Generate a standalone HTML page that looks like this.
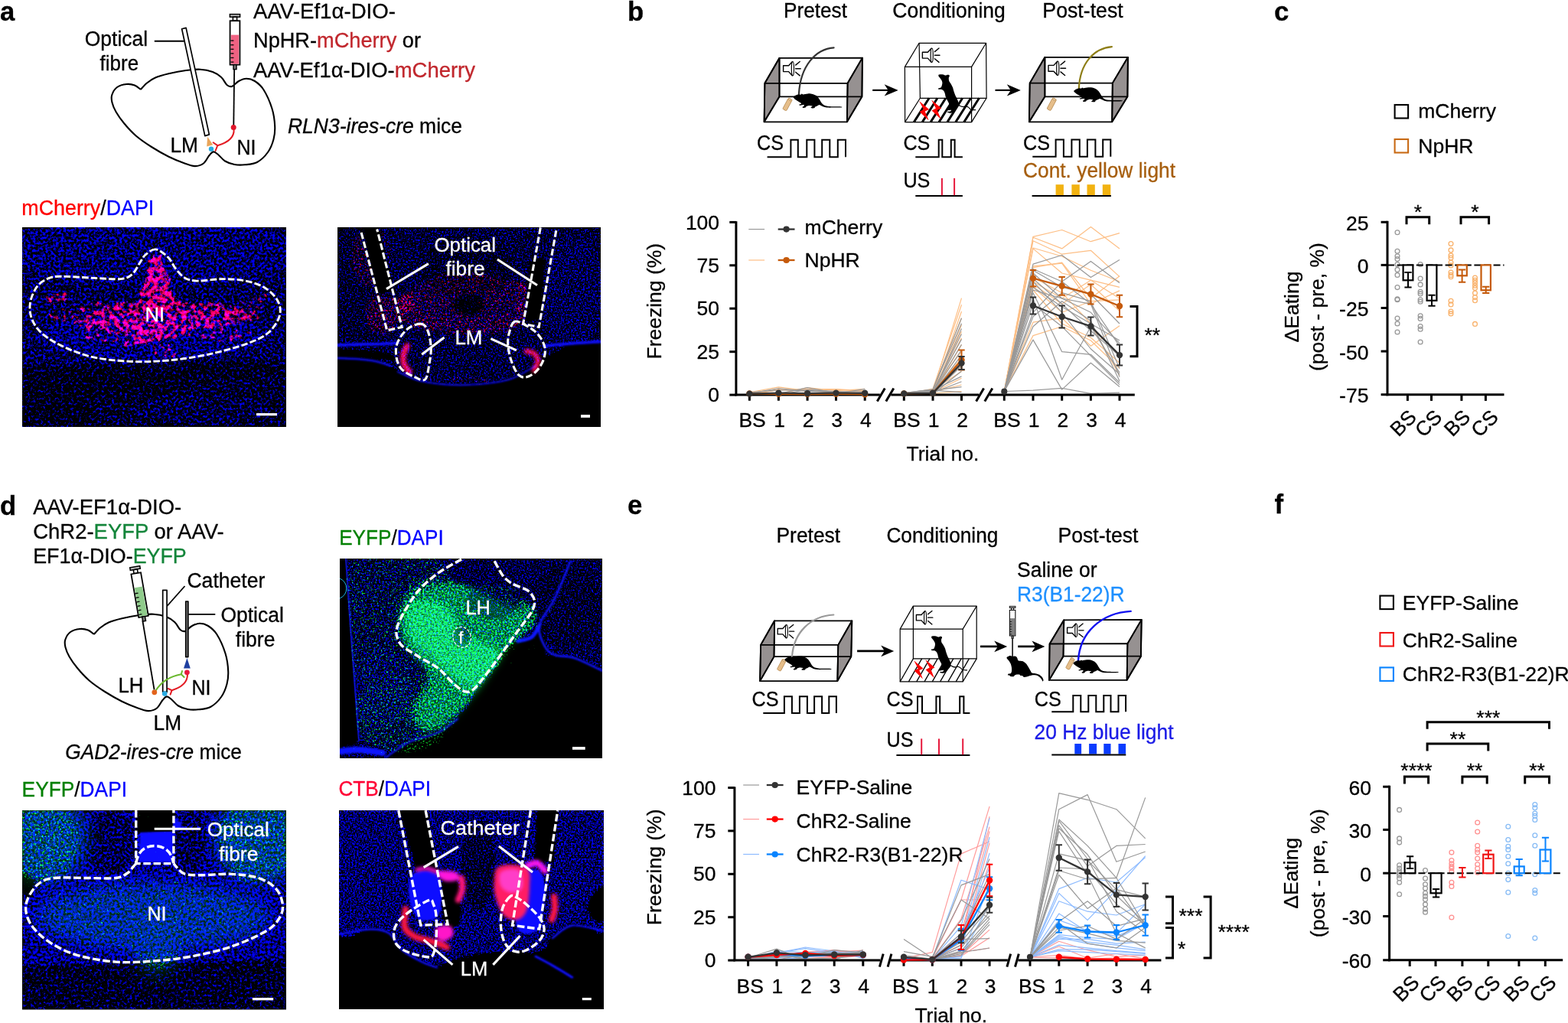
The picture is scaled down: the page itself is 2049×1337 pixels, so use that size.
<!DOCTYPE html>
<html lang="en"><head><meta charset="utf-8"><title>Figure</title>
<style>
html,body{margin:0;padding:0;background:#fff;}
body{width:2049px;height:1337px;overflow:hidden;}
svg{display:block;font-family:'Liberation Sans',sans-serif;font-size:27px;}
text{stroke:#000;stroke-width:.3px;}
</style></head><body>
<svg width="2049" height="1337" viewBox="0 0 2049 1337">
<defs>
<filter id="fB" x="0" y="0" width="100%" height="100%" color-interpolation-filters="sRGB">
<feTurbulence type="fractalNoise" baseFrequency="0.3" numOctaves="3" seed="5" result="n"/>
<feColorMatrix in="n" type="matrix" values="1 0 0 0 0 1 0 0 0 0 1 0 0 0 0 0 0 0 0 1" result="n1"/>
<feGaussianBlur in="SourceGraphic" stdDeviation="1.6" result="d"/>
<feComposite in="n1" in2="d" operator="arithmetic" k1="0" k2="1" k3="1" k4="-0.96" result="s"/>
<feColorMatrix in="s" type="matrix" values="0.0 0 0 0 0 0.0 0 0 0 0 3.6 0 0 0 0 0 0 0 0 1"/>
</filter>
<filter id="fBf" x="0" y="0" width="100%" height="100%" color-interpolation-filters="sRGB">
<feTurbulence type="fractalNoise" baseFrequency="0.45" numOctaves="3" seed="3" result="n"/>
<feColorMatrix in="n" type="matrix" values="1 0 0 0 0 1 0 0 0 0 1 0 0 0 0 0 0 0 0 1" result="n1"/>
<feGaussianBlur in="SourceGraphic" stdDeviation="1.4" result="d"/>
<feComposite in="n1" in2="d" operator="arithmetic" k1="0" k2="1" k3="1" k4="-0.96" result="s"/>
<feColorMatrix in="s" type="matrix" values="0.0 0 0 0 0 0.0 0 0 0 0 3.6 0 0 0 0 0 0 0 0 1"/>
</filter>
<filter id="fR" x="0" y="0" width="100%" height="100%" color-interpolation-filters="sRGB">
<feTurbulence type="fractalNoise" baseFrequency="0.16" numOctaves="3" seed="7" result="n"/>
<feColorMatrix in="n" type="matrix" values="1 0 0 0 0 1 0 0 0 0 1 0 0 0 0 0 0 0 0 1" result="n1"/>
<feGaussianBlur in="SourceGraphic" stdDeviation="2.2" result="d"/>
<feComposite in="n1" in2="d" operator="arithmetic" k1="0" k2="1" k3="1" k4="-1.0" result="s"/>
<feColorMatrix in="s" type="matrix" values="5 0 0 0 0 0 0 0 0 0 1.5 0 0 0 0 0 0 0 0 1"/>
</filter>
<filter id="fRf" x="0" y="0" width="100%" height="100%" color-interpolation-filters="sRGB">
<feTurbulence type="fractalNoise" baseFrequency="0.4" numOctaves="2" seed="9" result="n"/>
<feColorMatrix in="n" type="matrix" values="1 0 0 0 0 1 0 0 0 0 1 0 0 0 0 0 0 0 0 1" result="n1"/>
<feGaussianBlur in="SourceGraphic" stdDeviation="3" result="d"/>
<feComposite in="n1" in2="d" operator="arithmetic" k1="0" k2="1" k3="1" k4="-1.0" result="s"/>
<feColorMatrix in="s" type="matrix" values="4 0 0 0 0 0 0 0 0 0 0.6 0 0 0 0 0 0 0 0 1"/>
</filter>
<filter id="fG" x="0" y="0" width="100%" height="100%" color-interpolation-filters="sRGB">
<feTurbulence type="fractalNoise" baseFrequency="0.4" numOctaves="3" seed="13" result="n"/>
<feColorMatrix in="n" type="matrix" values="1 0 0 0 0 1 0 0 0 0 1 0 0 0 0 0 0 0 0 1" result="n1"/>
<feGaussianBlur in="SourceGraphic" stdDeviation="3" result="d"/>
<feComposite in="n1" in2="d" operator="arithmetic" k1="0" k2="1" k3="1" k4="-1.0" result="s"/>
<feColorMatrix in="s" type="matrix" values="0.2 0 0 0 0 4 0 0 0 0 0.8 0 0 0 0 0 0 0 0 1"/>
</filter>
<filter id="bl1" x="-20%" y="-20%" width="140%" height="140%"><feGaussianBlur stdDeviation="0.9"/></filter>
<filter id="bl2" x="-30%" y="-30%" width="160%" height="160%"><feGaussianBlur stdDeviation="2.2"/></filter>
<filter id="bl8" x="-40%" y="-40%" width="180%" height="180%"><feGaussianBlur stdDeviation="10"/></filter>
<filter id="bl4" x="-30%" y="-30%" width="160%" height="160%"><feGaussianBlur stdDeviation="5"/></filter>
<clipPath id="cA1"><rect x="29" y="297" width="345" height="261"/></clipPath>
<clipPath id="cA2"><rect x="441" y="297" width="344" height="261"/></clipPath>
<clipPath id="cD1"><rect x="444" y="730" width="343" height="261"/></clipPath>
<clipPath id="cD2"><rect x="29" y="1059" width="345" height="260.5"/></clipPath>
<clipPath id="cD3"><rect x="443" y="1059" width="346" height="260"/></clipPath>
</defs>
<rect width="2049" height="1337" fill="#fff"/>
<g clip-path="url(#cA1)">
<rect x="29" y="297" width="345" height="261" fill="#000"/>
<g filter="url(#fB)"><rect x="29" y="297" width="345" height="261" fill="#858585"/><ellipse cx="200" cy="330" rx="200" ry="45" fill="#8f8f8f"/><ellipse cx="200" cy="440" rx="150" ry="30" fill="#949494"/><polygon points="29,478 374,470 374,558 29,558" fill="#787878"/><ellipse cx="120" cy="500" rx="130" ry="22" fill="#6e6e6e"/><ellipse cx="60" cy="540" rx="70" ry="22" fill="#707070"/><ellipse cx="300" cy="485" rx="70" ry="10" fill="#707070"/><ellipse cx="260" cy="535" rx="90" ry="18" fill="#808080"/></g>
<g filter="url(#fR)" style="mix-blend-mode:screen"><rect x="29" y="297" width="345" height="261" fill="#242424"/><ellipse cx="205" cy="412" rx="145" ry="20" fill="#757575"/><ellipse cx="185" cy="420" rx="85" ry="26" fill="#8f8f8f"/><ellipse cx="175" cy="432" rx="45" ry="20" fill="#9e9e9e"/><ellipse cx="270" cy="412" rx="60" ry="16" fill="#949494"/><polygon points="196,332 212,332 235,405 178,405" fill="#999999"/><ellipse cx="205" cy="380" rx="16" ry="34" fill="#a3a3a3"/><ellipse cx="75" cy="390" rx="22" ry="8" fill="#808080"/><ellipse cx="335" cy="392" rx="25" ry="10" fill="#6b6b6b"/><ellipse cx="290" cy="438" rx="45" ry="10" fill="#707070"/><ellipse cx="215" cy="460" rx="20" ry="10" fill="#757575"/><ellipse cx="140" cy="440" rx="35" ry="10" fill="#737373"/></g>
<path d="M203.6,325.9C198.7,325.3 193.5,330 190,333C186.5,336 185.5,339.4 182.6,343.7C179.7,347.9 176.9,355 172.8,358.5C168.7,362 166.1,363.8 157.9,364.6C149.7,365.4 135.3,363.9 123.4,363.4C111.5,362.9 95.9,361.5 86.4,361.4C76.9,361.3 72.8,360.7 66.6,362.7C60.4,364.7 53.9,367.8 49.4,373.3C44.9,378.8 40.7,388.1 39.5,395.5C38.3,402.9 39.1,410.7 42,417.7C44.9,424.7 49.4,431.2 56.8,437.4C64.2,443.6 75.3,449.8 86.4,454.7C97.5,459.6 109,464.1 123.4,467.1C137.8,470.1 156.4,471.9 172.8,472.5C189.2,473.1 205.7,472.3 222.1,470.8C238.5,469.3 255.1,466.8 271.5,463.3C287.9,459.8 307.7,454.5 320.8,449.8C333.9,445.1 343,441.2 350.4,435C357.8,428.8 363.2,419.8 365.3,412.8C367.4,405.8 366.1,399.2 362.8,393C359.5,386.8 352.5,380 345.5,375.7C338.5,371.4 329.9,369 320.8,367.1C311.8,365.2 301.5,364.6 291.2,364.6C280.9,364.6 267.3,367.3 259.1,367.1C250.9,366.9 246.8,366.1 241.9,363.4C237,360.7 233.2,355.6 229.5,351.1C225.8,346.6 223.9,340.5 219.6,336.3C215.3,332.1 208.5,326.4 203.6,325.9Z" fill="none" stroke="#fff" stroke-width="2.9" stroke-dasharray="8.6 3.1"/>
<text x="189.6" y="419.8" font-size="26" fill="#fff" style="stroke:#fff" textLength="25.6" lengthAdjust="spacingAndGlyphs">NI</text>
<rect x="335" y="540" width="27" height="3.2" fill="#fff"/>
</g>
<g clip-path="url(#cA2)">
<rect x="441" y="297" width="344" height="261" fill="#000"/>
<g filter="url(#fBf)"><rect x="441" y="297" width="344" height="261" fill="#000000"/><polygon points="441,297 785,297 785,447 745.4,451.4 712.8,468.7 690,484 669.5,494.8 636.9,501.3 593.5,503.4 550,499 515.4,483.9 490,470 441,468" fill="#7d7d7d"/><ellipse cx="612" cy="398" rx="20" ry="14" fill="#5c5c5c"/><ellipse cx="610" cy="350" rx="60" ry="40" fill="#737373"/><polygon points="441,297 475,297 500,400 500,455 441,455" fill="#787878"/><ellipse cx="750" cy="380" rx="40" ry="70" fill="#858585"/><polygon points="475.5,297 493,297 513,378 495,383" fill="#000000"/><polygon points="693,343 710,338 706,415 689,420" fill="#000000"/><path d="M441,458C445.8,456.8 460.2,458.3 470,459C479.8,459.7 491.7,460.2 500,462C508.3,463.8 520,469 520,470C520,471 508.3,468.5 500,468C491.7,467.5 479.8,467.3 470,467C460.2,466.7 445.8,467.5 441,466C436.2,464.5 436.2,459.2 441,458Z" fill="#000000"/></g>
<g fill="none" stroke="#0a0aff" stroke-width="2.4" stroke-linecap="round" filter="url(#bl1)" opacity="0.95">
<path d="M441,451C445.8,450.8 460.2,450.2 470,450C479.8,449.8 491.7,449.8 500,449.5C508.3,449.2 516.7,448.2 520,448" stroke-width="4"/>
<path d="M441,468C445,468.2 456.8,468.3 465,469C473.2,469.7 482.5,470.5 490,472C497.5,473.5 506.7,477 510,478" stroke-width="2.6"/>
<path d="M712,452C717.5,451.5 732.8,449.9 745,449C757.2,448.1 778.3,446.9 785,446.5" stroke-width="4"/>
<path d="M520,486C525,488 537.8,495.2 550,498C562.2,500.8 579,502.5 593.5,503C608,503.5 624.2,502.4 636.9,501C649.6,499.6 659,498.3 669.5,494.5C680,490.7 694.9,480.8 700,478" stroke-width="2"/>
</g>
<g filter="url(#fRf)" style="mix-blend-mode:screen"><rect x="441" y="297" width="344" height="261" fill="#1f1f1f"/><ellipse cx="553" cy="402" rx="38" ry="28" fill="#949494"/><ellipse cx="668" cy="396" rx="36" ry="32" fill="#949494"/><ellipse cx="610" cy="418" rx="85" ry="22" fill="#757575"/><ellipse cx="610" cy="385" rx="75" ry="32" fill="#6b6b6b"/><ellipse cx="485" cy="335" rx="28" ry="45" fill="#6b6b6b"/><ellipse cx="500" cy="410" rx="25" ry="30" fill="#757575"/><ellipse cx="610" cy="498" rx="60" ry="6" fill="#6b6b6b"/><ellipse cx="612" cy="398" rx="16" ry="12" fill="#333333"/><polygon points="474,297 494,297 514,380 496,385" fill="#000000"/><polygon points="692,343 711,338 707,415 688,420" fill="#000000"/><polygon points="441,470 520,486 550,500 640,503 700,480 785,450 785,558 441,558" fill="#000000"/></g>
<g filter="url(#bl2)" style="mix-blend-mode:screen"><path d="M532,452C531.2,454 527.7,460 527,464C526.3,468 526.7,472.3 528,476C529.3,479.7 533.8,484.3 535,486" fill="none" stroke="#ff0a50" stroke-width="7" stroke-linecap="round"/><path d="M688,459C689.7,459.5 695.5,459.8 698,462C700.5,464.2 703,468.3 703,472C703,475.7 698.8,482 698,484" fill="none" stroke="#ff0a50" stroke-width="6" stroke-linecap="round"/></g>
<path d="M472.1,303.9 L505.7,431.8 L525.2,427.5 L492.7,299.5" fill="none" stroke="#fff" stroke-width="3.1" stroke-dasharray="8.8 3.4"/>
<path d="M706.3,297.4 L683.6,423.2 L704.2,427.5 L726.9,300.6" fill="none" stroke="#fff" stroke-width="3.1" stroke-dasharray="8.8 3.4"/>
<path d="M550.2,423.2C545.9,422.8 537.9,425.7 532.8,429.7C527.7,433.7 522.3,441.2 519.8,447C517.3,452.8 516.9,458.6 517.6,464.4C518.3,470.2 520.1,477 524.1,481.7C528.1,486.4 536.2,490.2 541.5,492.6C546.8,495 552.4,498.7 555.6,495.8C558.9,492.9 559.7,482.2 561,475.2C562.3,468.1 563.6,460.7 563.2,453.5C562.8,446.3 561,436.9 558.8,431.8C556.6,426.8 554.5,423.6 550.2,423.2Z" fill="none" stroke="#fff" stroke-width="3.1" stroke-dasharray="8.8 3.4"/>
<path d="M672.7,420.3C668.4,421.8 666.6,430.7 665.1,436.2C663.6,441.7 663.3,447 664,453.5C664.7,460 667.1,469.1 669.5,475.2C671.9,481.3 674.9,487.5 678.1,490.4C681.4,493.3 685,493.7 689,492.6C693,491.5 698.4,487.9 702,483.9C705.6,479.9 709.1,473.8 710.7,468.7C712.3,463.6 712.9,458.6 711.8,453.5C710.7,448.4 707.7,442.7 704.2,438.4C700.8,434.1 696.4,430.5 691.1,427.5C685.9,424.5 677,418.9 672.7,420.3Z" fill="none" stroke="#fff" stroke-width="3.1" stroke-dasharray="8.8 3.4"/>
<text x="567.5" y="328.8" font-size="26" fill="#fff" style="stroke:#fff" textLength="80.5" lengthAdjust="spacingAndGlyphs">Optical</text>
<text x="582.5" y="360.3" font-size="26" fill="#fff" style="stroke:#fff" textLength="51" lengthAdjust="spacingAndGlyphs">fibre</text>
<line x1="559.9" y1="344.6" x2="505" y2="377.6" stroke="#fff" stroke-width="3.1"/>
<line x1="649.9" y1="339" x2="702" y2="372.8" stroke="#fff" stroke-width="3.1"/>
<text x="594.4" y="449.6" font-size="26" fill="#fff" style="stroke:#fff" textLength="36" lengthAdjust="spacingAndGlyphs">LM</text>
<line x1="580.5" y1="441" x2="551.2" y2="463.3" stroke="#fff" stroke-width="3.1"/>
<line x1="641.3" y1="442.7" x2="674.9" y2="457.9" stroke="#fff" stroke-width="3.1"/>
<rect x="759" y="542" width="12" height="3.8" fill="#fff"/>
</g>
<g clip-path="url(#cD1)">
<rect x="444" y="730" width="343" height="261" fill="#000"/>
<g filter="url(#fBf)"><rect x="444" y="730" width="343" height="261" fill="#000000"/><polygon points="451,730 787,730 787,877 750.6,860.7 725.1,858.2 710,858 712.4,848 704.8,817.5 694.6,832.7 676.8,837.8 664.1,848 648.9,873.4 628.5,898.9 613.3,924.3 598,939.5 572.6,957.3 534.4,970 503.9,991 444,991 444,975 468.3,970 463,900 457,820" fill="#808080"/><ellipse cx="740" cy="790" rx="45" ry="55" fill="#787878"/><ellipse cx="500" cy="900" rx="40" ry="50" fill="#878787"/></g>
<g fill="none" stroke="#0a14ff" stroke-width="3" stroke-linecap="round" filter="url(#bl1)">
<path d="M451,731C452,745.8 455,791.8 457,820C459,848.2 461.2,875.3 463,900C464.8,924.7 467.2,956.7 468,968" stroke-width="3.4"/>
<path d="M444,982C448.3,981.7 460.7,979.7 470,980C479.3,980.3 495,983.3 500,984" stroke-width="8"/>
<path d="M745.5,733.6C742.1,741.6 731.9,767.9 725.1,781.9C718.3,795.9 707,807 704.8,817.5C702.6,828 708.6,838.6 712,845C715.4,851.4 718.6,853.5 725,856C731.4,858.5 740.3,856.6 750.6,860C760.9,863.4 780.9,873.8 787,876.5" stroke-width="2.6"/>
<path d="M704.8,817.5C703.1,820 699.3,829.3 694.6,832.7C689.9,836.1 679.8,836.9 676.8,837.8" stroke-width="5"/>
<path d="M503.9,990C509,986.7 522.9,975.5 534.4,970C545.9,964.5 562,962.4 572.6,957.3C583.2,952.2 593.8,942.5 598,939.5" stroke-width="2.2"/>
</g>
<path d="M545,775C557.7,768.3 580.8,762.5 600,765C619.2,767.5 645,784.2 660,790C675,795.8 685.8,794.2 690,800C694.2,805.8 690,816.7 685,825C680,833.3 667.5,840.8 660,850C652.5,859.2 647.5,869.2 640,880C632.5,890.8 624.2,904.2 615,915C605.8,925.8 595,938.3 585,945C575,951.7 561.7,958.3 555,955C548.3,951.7 543.3,935.8 545,925C546.7,914.2 565,900.5 565,890C565,879.5 551.2,870.3 545,862C538.8,853.7 531.5,849.5 528,840C524.5,830.5 521.2,815.8 524,805C526.8,794.2 532.3,781.7 545,775Z" fill="#00c828" opacity="0.38" filter="url(#bl4)" style="mix-blend-mode:screen"/>
<path d="M535,800C541.7,792.5 562.5,784.2 575,790C587.5,795.8 596.7,825 610,835C623.3,845 650,842.5 655,850C660,857.5 646.7,870.8 640,880C633.3,889.2 624.2,905 615,905C605.8,905 595,887.5 585,880C575,872.5 563.3,867.5 555,860C546.7,852.5 538.3,845 535,835C531.7,825 528.3,807.5 535,800Z" fill="#14e650" opacity="0.35" filter="url(#bl4)" style="mix-blend-mode:screen"/>
<g filter="url(#fG)" style="mix-blend-mode:screen"><rect x="444" y="730" width="343" height="261" fill="#383838"/><ellipse cx="520" cy="810" rx="90" ry="100" fill="#666666"/><ellipse cx="525" cy="935" rx="70" ry="50" fill="#707070"/><path d="M550,760C566.7,754.2 596.7,760.8 620,765C643.3,769.2 676.3,776.7 690,785C703.7,793.3 705,805.5 702,815C699,824.5 680.7,832.5 672,842C663.3,851.5 657.3,862.8 650,872C642.7,881.2 634.3,888.7 628,897C621.7,905.3 618.3,914.5 612,922C605.7,929.5 599.5,936.5 590,942C580.5,947.5 564.2,957 555,955C545.8,953 535,940.8 535,930C535,919.2 552.5,901.3 555,890C557.5,878.7 554.5,870 550,862C545.5,854 533,852.3 528,842C523,831.7 516.3,813.7 520,800C523.7,786.3 533.3,765.8 550,760Z" fill="#949494"/><path d="M535,790C542.5,783.3 567.5,783.3 580,790C592.5,796.7 598.3,820 610,830C621.7,840 644.2,843 650,850C655.8,857 649.2,864.5 645,872C640.8,879.5 634.2,893.7 625,895C615.8,896.3 600.8,887.5 590,880C579.2,872.5 569.2,858.3 560,850C550.8,841.7 539.2,840 535,830C530.8,820 527.5,796.7 535,790Z" fill="#adadad"/><ellipse cx="645" cy="785" rx="34" ry="24" fill="#6b6b6b"/><ellipse cx="603" cy="832" rx="10" ry="12" fill="#404040"/><polygon points="640,887 712,848 787,880 787,991 565,991 600,945" fill="#000000"/></g>
<path d="M444,730 L451,730 L457,820 L463,900 L468,968 L444,974Z" fill="#000"/>
<path d="M603.1,731C598.5,733.7 581,742.7 572.6,748.8C564.2,754.9 554,763.7 547.1,771.7C540.2,779.7 531.2,794.2 526.8,802.2C522.4,810.2 518.3,819 517.9,825.1C517.5,831.2 519.9,837.9 524.3,842.9C528.7,847.9 539.9,853.6 547.1,858.2C554.3,862.8 565.7,868.1 572.6,873.4C579.5,878.7 587.6,889.2 592.9,893.8C598.2,898.4 604,903.1 608.2,903.9C612.4,904.7 614.8,905 620.9,898.9C627,892.8 640.9,874 648.9,863.3C656.9,852.6 667.4,837.2 674.3,827.7C681.2,818.2 691,806.2 694.6,799.7C698.2,793.2 699.2,788.6 698.4,784.4C697.6,780.2 693.9,774.9 689.5,771.7C685.1,768.5 674.2,765.8 669.2,762.8C664.2,759.8 660.1,756.2 656.5,751.4C652.9,746.6 646.7,734.1 645,731" fill="none" stroke="#fff" stroke-width="3.4" stroke-dasharray="9.6 3.6"/>
<ellipse cx="603.6" cy="832.7" rx="11.6" ry="13.6" fill="none" stroke="#fff" stroke-width="1.2" stroke-dasharray="3.5 2" transform="rotate(-20 603.6 832.7)"/>
<text x="599.3" y="840.9" font-size="22" fill="#fff" style="stroke:#fff">f</text>
<text x="608.4" y="802.7" font-size="25.5" fill="#fff" style="stroke:#fff" textLength="32.5" lengthAdjust="spacingAndGlyphs">LH</text>
<path d="M444,756 A14,14 0 0 1 444,782" fill="none" stroke="#1ab4e6" stroke-width="1"/>
<rect x="748" y="976.1" width="16.7" height="3.7" fill="#fff"/>
</g>
<g clip-path="url(#cD2)">
<rect x="29" y="1059" width="345" height="260.5" fill="#000"/>
<g filter="url(#fB)"><rect x="29" y="1059" width="345" height="260.5" fill="#999999"/><ellipse cx="200" cy="1195" rx="175" ry="55" fill="#a1a1a1"/><ellipse cx="145" cy="1100" rx="32" ry="42" fill="#878787"/><ellipse cx="248" cy="1100" rx="20" ry="42" fill="#878787"/><polygon points="29,1262 374,1255 374,1320 29,1320" fill="#757575"/><polygon points="29,1140 45,1150 40,1172 29,1165" fill="#333333"/><polygon points="180.5,1059 225.5,1059 225.5,1088 180.5,1088" fill="#000000"/></g>
<path d="M183,1088 L226,1086 L227,1127 L181,1127 Z" fill="#0a0aff" filter="url(#bl1)"/>
<path d="M226,1072 L238,1074 L236,1084 L226,1086Z" fill="#0a0aff" filter="url(#bl1)"/>
<rect x="180.5" y="1059" width="45" height="27.5" fill="#000"/>
<g filter="url(#fG)" style="mix-blend-mode:screen"><rect x="29" y="1059" width="345" height="260.5" fill="#333333"/><ellipse cx="55" cy="1100" rx="50" ry="55" fill="#757575"/><ellipse cx="335" cy="1100" rx="55" ry="55" fill="#707070"/><ellipse cx="205" cy="1228" rx="34" ry="40" fill="#707070"/><ellipse cx="200" cy="1195" rx="160" ry="50" fill="#575757"/></g>
<g filter="url(#bl8)" style="mix-blend-mode:screen" fill="#00a040" opacity="0.3"><ellipse cx="55" cy="1095" rx="60" ry="60"/><ellipse cx="340" cy="1095" rx="60" ry="60"/><ellipse cx="200" cy="1198" rx="150" ry="42" opacity="0.85"/><ellipse cx="205" cy="1235" rx="30" ry="40" opacity="0.8"/></g>
<path d="M177.7,1059 V1128.6 H226.9 V1059" fill="none" stroke="#fff" stroke-width="3.4" stroke-dasharray="9.6 3.6"/>
<path d="M178,1128 C180,1112 190,1105.5 201.7,1105.5 C214,1105.5 224,1112 226.6,1128" fill="none" stroke="#fff" stroke-width="3.4" stroke-dasharray="9.6 3.6"/>
<path d="M177.7,1128.6C177.1,1129.3 175.8,1130.9 173.9,1133C172,1135.1 170.2,1138.8 166.4,1141.2C162.6,1143.6 160,1146.5 151.2,1147.5C142.4,1148.5 126.8,1147.5 113.4,1147.5C100,1147.5 81.1,1146.2 70.6,1147.5C60.1,1148.8 56.1,1150.6 50.4,1155C44.7,1159.4 39.3,1167.8 36.6,1173.9C33.9,1180 33,1185.3 34,1191.6C35,1197.9 37.6,1205 42.9,1211.7C48.1,1218.4 55.9,1225.8 65.5,1231.9C75.2,1238 86.5,1244.1 100.8,1248.3C115.1,1252.5 134.4,1255.8 151.2,1257.1C168,1258.4 184.9,1257.2 201.7,1255.9C218.5,1254.7 235.3,1252.8 252.1,1249.6C268.9,1246.4 286.5,1242.5 302.5,1237C318.5,1231.5 337.4,1223.1 347.9,1216.8C358.4,1210.5 361.9,1205 365.5,1199.1C369.1,1193.2 370.1,1187.8 369.3,1181.5C368.5,1175.2 365.8,1167 360.5,1161.3C355.2,1155.6 347.5,1150.7 337.8,1147.5C328.1,1144.3 314.7,1143 302.5,1142.4C290.3,1141.8 274.8,1143.7 264.7,1143.7C254.6,1143.7 247.5,1143.9 242,1142.4C236.5,1140.9 234.4,1136.9 231.9,1134.6C229.4,1132.3 227.7,1129.6 226.9,1128.6" fill="none" stroke="#fff" stroke-width="3.4" stroke-dasharray="9.6 3.6"/>
<line x1="201.7" y1="1083.2" x2="262.2" y2="1083.2" stroke="#fff" stroke-width="3.1"/>
<text x="270.8" y="1093.3" font-size="26" fill="#fff" style="stroke:#fff" textLength="81" lengthAdjust="spacingAndGlyphs">Optical</text>
<text x="286" y="1125.3" font-size="26" fill="#fff" style="stroke:#fff" textLength="51.3" lengthAdjust="spacingAndGlyphs">fibre</text>
<text x="192.4" y="1202.9" font-size="26" fill="#fff" style="stroke:#fff" textLength="25" lengthAdjust="spacingAndGlyphs">NI</text>
<rect x="329.9" y="1304" width="27.3" height="3.3" fill="#fff"/>
</g>
<g clip-path="url(#cD3)">
<rect x="443" y="1059" width="346" height="260" fill="#000"/>
<g filter="url(#fBf)"><rect x="443" y="1059" width="346" height="260" fill="#000000"/><path d="M443,1059C477.6,1042.7 754.4,1043.2 789,1059C823.6,1074.8 790.9,1201.6 789,1217C787.1,1232.4 774.1,1213.8 770,1213C765.9,1212.2 752.5,1208.1 747.7,1209.2C743,1210.3 725.8,1220.9 722.5,1224C719.2,1227.1 717.5,1237.7 715,1240C712.5,1242.3 701.6,1246.5 697.3,1247C693,1247.5 678.3,1244.5 672,1244.5C665.7,1244.5 641.8,1246 634.2,1247C626.6,1248 602.7,1252.8 596.4,1254.6C590.1,1256.4 575.7,1264.5 571.2,1264.7C566.7,1265 555.6,1259.4 551.1,1257.1C546.6,1254.8 530.2,1245.8 525.9,1242C521.6,1238.2 512.5,1222.1 508.2,1219.3C503.9,1216.5 489.5,1214 483,1214.2C476.5,1214.5 447,1237.3 443,1221.8C439,1206.3 408.4,1075.3 443,1059Z" fill="#8f8f8f"/><polygon points="443,1059 789,1059 789,1200 443,1200" fill="#8f8f8f"/><ellipse cx="625" cy="1130" rx="22" ry="60" fill="#787878"/><polygon points="524,1059 556,1059 571,1138 546,1140" fill="#000000"/><polygon points="703,1059 728.5,1059 722,1126 700,1124" fill="#000000"/><path d="M580,1150C582.8,1145.3 592.7,1147 596,1152C599.3,1157 599.7,1171 600,1180C600.3,1189 600.7,1201.2 598,1206C595.3,1210.8 587.2,1213.3 584,1209C580.8,1204.7 579.7,1189.8 579,1180C578.3,1170.2 577.2,1154.7 580,1150Z" fill="#000000"/><path d="M770,1180C772.3,1173.3 785.8,1156.7 789,1160C792.2,1163.3 791.3,1193.3 789,1200C786.7,1206.7 778.2,1203.3 775,1200C771.8,1196.7 767.7,1186.7 770,1180Z" fill="#1a1a1a"/></g>
<g fill="#0a0aff" filter="url(#bl1)">
<path d="M540,1142C544.3,1138.3 554.3,1137 560,1138C565.7,1139 571.2,1142.3 574,1148C576.8,1153.7 577.3,1163.7 577,1172C576.7,1180.3 576.5,1193 572,1198C567.5,1203 555.7,1204 550,1202C544.3,1200 540.7,1193 538,1186C535.3,1179 533.7,1167.3 534,1160C534.3,1152.7 535.7,1145.7 540,1142Z"/>
<path d="M682,1142C686.3,1136.7 699,1135 704,1138C709,1141 711.2,1151.3 712,1160C712.8,1168.7 710.3,1181 709,1190C707.7,1199 708.2,1209 704,1214C699.8,1219 689,1221.5 684,1220C679,1218.5 675,1213.3 674,1205C673,1196.7 676.7,1180.5 678,1170C679.3,1159.5 677.7,1147.3 682,1142Z"/>
</g>
<g fill="none" stroke="#0a0aff" stroke-width="2.4" stroke-linecap="round" filter="url(#bl1)">
<path d="M443,1221C449.7,1219.9 472.2,1214.8 483,1214.5C493.8,1214.2 500.8,1214.9 508,1219.5C515.2,1224.1 518.8,1235.8 526,1242C533.2,1248.2 543.5,1253.2 551,1257C558.5,1260.8 567.7,1263.2 571,1264.5"/>
<path d="M700,1250C703.8,1252 714.5,1257.5 722.5,1262.1C730.5,1266.6 743.5,1274.8 747.7,1277.3" stroke-width="3"/>
<path d="M722,1226C726.3,1223.2 736.5,1211 747.7,1209.5C758.9,1208 782.1,1215.6 789,1216.8"/>
</g>
<g filter="url(#bl2)" stroke-linecap="round" stroke-linejoin="round" fill="none">
<path d="M545,1137C547,1136.7 552.8,1134.7 557,1135C561.2,1135.3 567.8,1138.3 570,1139" stroke="#ff14dc" stroke-width="5"/>
<path d="M571,1139C573.7,1137.2 591.5,1138.2 596,1140C600.5,1141.8 600.7,1148.2 598,1150C595.3,1151.8 584.5,1152.8 580,1151C575.5,1149.2 568.3,1140.8 571,1139Z" fill="#ff14dc"/>
<path d="M603,1148C603.2,1150.3 604.7,1157.3 604,1162C603.3,1166.7 599.8,1173.7 599,1176" stroke="#ff1478" stroke-width="8"/>
<path d="M530,1188C529.8,1192 527,1206 529,1212C531,1218 536.8,1221.2 542,1224C547.2,1226.8 554.5,1227.3 560,1229C565.5,1230.7 571,1232.5 575,1234C579,1235.5 582.5,1237.3 584,1238" stroke="#ff143c" stroke-width="8"/>
<path d="M571,1212C574,1209.7 584.5,1208.3 588,1210C591.5,1211.7 593.3,1218.7 592,1222C590.7,1225.3 583.7,1229.7 580,1230C576.3,1230.3 571.5,1227 570,1224C568.5,1221 568,1214.3 571,1212Z" fill="#ff14c8"/>
<path d="M650,1134C653.7,1131 661.3,1129.7 668,1130C674.7,1130.3 686,1131 690,1136C694,1141 692.3,1151 692,1160C691.7,1169 690.7,1183 688,1190C685.3,1197 681,1201 676,1202C671,1203 662.8,1201.3 658,1196C653.2,1190.7 649,1178 647,1170C645,1162 645.5,1154 646,1148C646.5,1142 646.3,1137 650,1134Z" fill="#ff1e64"/>
<path d="M655,1140C658.8,1136.7 673.5,1134.7 678,1138C682.5,1141.3 683.7,1155.3 682,1160C680.3,1164.7 672.5,1166.3 668,1166C663.5,1165.7 657.2,1162.3 655,1158C652.8,1153.7 651.2,1143.3 655,1140Z" fill="#ff3cc8"/>
<path d="M690,1131C692,1130.5 698.3,1126.8 702,1128C705.7,1129.2 710.3,1136.3 712,1138" stroke="#ff14f0" stroke-width="8"/>
<path d="M724,1172C724.2,1174.7 725.5,1183 725,1188C724.5,1193 721.7,1199.7 721,1202" stroke="#ff1446" stroke-width="8"/>
</g>
<path d="M520.8,1059.2 L549.8,1209.2 L585.1,1207.9 L556.1,1059.2" fill="none" stroke="#fff" stroke-width="3.4" stroke-dasharray="9.6 3.6"/>
<path d="M693.5,1059.2 L669.5,1209.2 L704.8,1214.2 L728.8,1059.2" fill="none" stroke="#fff" stroke-width="3.4" stroke-dasharray="9.6 3.6"/>
<path d="M561.1,1176.4C556.5,1177.7 545.2,1184.4 538.5,1189C531.8,1193.6 524.8,1199.2 520.8,1204.2C516.8,1209.2 514.9,1214.3 514.5,1219.3C514.1,1224.3 515.1,1230.2 518.3,1234.4C521.4,1238.6 526.7,1241.8 533.4,1244.5C540.1,1247.2 553.1,1250.4 558.6,1250.8C564.1,1251.2 564.3,1251 566.2,1247C568.1,1243 569.4,1235.2 570,1226.8C570.6,1218.4 570.6,1204.1 570,1196.6C569.4,1189 567.7,1184.9 566.2,1181.5C564.7,1178.1 565.7,1175.2 561.1,1176.4Z" fill="none" stroke="#fff" stroke-width="3.4" stroke-dasharray="9.6 3.6"/>
<path d="M667,1171.4C664,1173.7 659,1180.2 656.9,1186.5C654.8,1192.8 654,1201.6 654.4,1209.2C654.8,1216.8 656.5,1226.2 659.4,1231.9C662.3,1237.6 667.4,1241.5 672,1243.2C676.6,1244.9 681.7,1244.3 687.2,1242C692.7,1239.7 700.8,1234 704.8,1229.4C708.8,1224.8 711.1,1219.2 711.1,1214.2C711.1,1209.2 708.8,1204.5 704.8,1199.1C700.8,1193.6 692.2,1185.9 687.2,1181.5C682.2,1177.1 678,1174.4 674.6,1172.7C671.2,1171 670,1169.1 667,1171.4Z" fill="none" stroke="#fff" stroke-width="3.4" stroke-dasharray="9.6 3.6"/>
<text x="575.5" y="1091.2" font-size="26" fill="#fff" style="stroke:#fff" textLength="103.5" lengthAdjust="spacingAndGlyphs">Catheter</text>
<line x1="599" y1="1106.4" x2="553.6" y2="1133.6" stroke="#fff" stroke-width="3.1"/>
<line x1="651.9" y1="1105.9" x2="696" y2="1139.9" stroke="#fff" stroke-width="3.1"/>
<text x="601.8" y="1275.2" font-size="26" fill="#fff" style="stroke:#fff" textLength="35.5" lengthAdjust="spacingAndGlyphs">LM</text>
<line x1="591.4" y1="1260.9" x2="553.6" y2="1228.1" stroke="#fff" stroke-width="3.1"/>
<line x1="644.3" y1="1260.9" x2="679.6" y2="1223.1" stroke="#fff" stroke-width="3.1"/>
<rect x="760.8" y="1304" width="12" height="3.2" fill="#fff"/>
</g>
<g id="panel-a">
<text x="0" y="26.6" font-size="34.7" font-weight="bold" stroke-width="0">a</text>
<text x="110.7" y="59.8" textLength="82.5" lengthAdjust="spacingAndGlyphs">Optical</text>
<text x="130.6" y="92.2" textLength="50.6" lengthAdjust="spacingAndGlyphs">fibre</text>
<text x="331" y="24.3" textLength="186" lengthAdjust="spacingAndGlyphs">AAV-Ef1α-DIO-</text>
<text x="331" y="62" textLength="219" lengthAdjust="spacingAndGlyphs">NpHR-<tspan fill="#C1272D" style="stroke:#C1272D">mCherry</tspan> or</text>
<text x="331" y="100.6" textLength="290" lengthAdjust="spacingAndGlyphs">AAV-Ef1α-DIO-<tspan fill="#C1272D" style="stroke:#C1272D">mCherry</tspan></text>
<text x="376" y="174" textLength="228" lengthAdjust="spacingAndGlyphs"><tspan font-style="italic">RLN3-ires-cre</tspan> mice</text>
<text x="222.5" y="198.7" textLength="36.5" lengthAdjust="spacingAndGlyphs">LM</text>
<text x="309.4" y="202" textLength="25" lengthAdjust="spacingAndGlyphs">NI</text>
<g fill="none" stroke="#000" stroke-width="2.1" stroke-linejoin="round">
<path d="M183.8,117C182.5,116.1 179.1,112.7 176,111.5C172.9,110.3 169.2,109.6 165.4,110C161.6,110.4 156.2,111.7 153,114C149.8,116.3 147.4,120.7 146.3,124C145.2,127.3 145.6,130.3 146.5,134C147.4,137.7 149,141.7 151.6,146.2C154.2,150.7 157.7,155.8 162,161C166.3,166.2 171.4,172 177.4,177.2C183.4,182.4 190.8,187.4 198,192C205.2,196.6 213.4,201.2 220.4,204.7C227.4,208.2 234.3,210.9 240,213C245.7,215.1 250.5,217 254.8,217.1C259.1,217.2 262.9,215.8 266,213.5C269.1,211.2 271.4,205.5 273.5,203C275.6,200.5 277,198.6 278.9,198.4C280.8,198.2 282.5,200 285,202C287.5,204 290.4,208.3 294,210.5C297.6,212.7 302.1,214.2 306.4,215C310.7,215.8 315.1,215.8 320,215.3C324.9,214.8 331,214.7 336,212C341,209.3 346.4,204 350,199C353.6,194 356,187.7 357.5,182C359,176.3 359.5,171.8 359.2,165.1C358.9,158.4 358,150 355.5,142C353,134 348.1,123 344.3,117C340.6,111 336.7,108.4 333,106C329.3,103.6 325.4,102.7 321.9,102.7C318.4,102.7 315.1,104.3 312,106C308.9,107.7 305.6,112.1 303,112.9C300.4,113.7 298.8,113 296.5,111C294.2,109 292.3,103.8 289.2,101C286.1,98.2 282.6,95.7 278,94C273.4,92.3 267.5,91 261.7,90.7C255.9,90.4 249.9,91.1 243,92C236.1,92.9 227.1,94.7 220.4,96.3C213.7,97.9 207.7,99.5 203,101.5C198.3,103.5 195.2,105.9 192,108.5C188.8,111.1 185.2,115.6 183.8,117"/>
<line x1="201.8" y1="53.7" x2="240.6" y2="53.7" stroke-width="1.9"/>
<polygon points="237.6,37.8 243.1,36.4 273.4,175.9 267.8,177.6" fill="#fff" stroke-width="1.7"/>
<line x1="306.2" y1="90" x2="305.3" y2="164" stroke-width="1.8"/>
</g>
<g transform="translate(307 18.6) rotate(0) scale(1.0)" stroke="#000" stroke-width="1.8" fill="#fff">
<rect x="-6.6" y="0" width="13.2" height="3.6" fill="#bbb" stroke-width="1.5"/>
<rect x="-2.6" y="3.6" width="5.2" height="5" stroke-width="1.6"/>
<rect x="-6.4" y="8.6" width="12.8" height="57.4"/>
<rect x="-5.2" y="27" width="10.4" height="38" fill="#F06282" stroke="none"/>
<line x1="-5.6" y1="34.5" x2="-1.6" y2="34.5" stroke-width="1.3"/>
<line x1="-5.6" y1="40.1" x2="-1.6" y2="40.1" stroke-width="1.3"/>
<line x1="-5.6" y1="45.7" x2="-1.6" y2="45.7" stroke-width="1.3"/>
<line x1="-5.6" y1="51.3" x2="-1.6" y2="51.3" stroke-width="1.3"/>
<line x1="-5.6" y1="56.9" x2="-1.6" y2="56.9" stroke-width="1.3"/>
<line x1="-5.6" y1="62.5" x2="-1.6" y2="62.5" stroke-width="1.3"/>
<rect x="-2" y="66" width="4" height="6" fill="#777" stroke-width="1.4"/>
</g>
<path d="M305.6,169 C306.5,180 297,186.5 284.3,190.2 M278.6,186.2 L284.3,190.2 L281.6,197" stroke-width="2" stroke="#E31B23" fill="none" stroke-linecap="round"/>
<circle cx="305.2" cy="166.6" r="3.5" fill="#E0162B"/>
<polygon points="271.2,178.7 270.2,191.4 278.2,189.3" fill="#E9A55A"/>
<circle cx="276" cy="194.7" r="3.2" fill="#29ABE2"/>
<text x="28.3" y="280.8" textLength="173" lengthAdjust="spacingAndGlyphs"><tspan fill="#FF0000" style="stroke:#FF0000">mCherry</tspan>/<tspan fill="#0000FF" style="stroke:#0000FF">DAPI</tspan></text>
</g>
<g id="panel-b">
<text x="820" y="27" font-size="34.7" font-weight="bold" stroke-width="0">b</text>
<text x="1024" y="22.6" textLength="83" lengthAdjust="spacingAndGlyphs">Pretest</text>
<text x="1166.3" y="22.6" textLength="147.5" lengthAdjust="spacingAndGlyphs">Conditioning</text>
<text x="1362.3" y="22.6" textLength="105.5" lengthAdjust="spacingAndGlyphs">Post-test</text>
<g fill="none" stroke="#000" stroke-width="1.8" stroke-linejoin="round">
<polygon points="999.4,108.8 1018.5,75.8 1018.5,126.3 998.6,159.3" fill="#969191"/>
<polygon points="1107.6,108.8 1126.9,75.6 1126.4,126.3 1106.9,159.3" fill="#969191"/>
<polygon points="1018.5,75.8 1126.9,75.6 1126.4,126.3 1018.5,126.3"/>
<polygon points="999.4,108.8 1107.6,108.8 1106.9,159.3 998.6,159.3"/>
<line x1="999.4" y1="108.8" x2="1018.5" y2="75.8"/>
<line x1="1107.6" y1="108.8" x2="1126.9" y2="75.6"/>
<line x1="1106.9" y1="159.3" x2="1126.4" y2="126.3"/>
<line x1="998.6" y1="159.3" x2="1018.5" y2="126.3"/>
</g>
<g transform="translate(1023.6 89.7) scale(1.0)" fill="#fff" stroke="#000" stroke-width="1.4" stroke-linecap="round" stroke-linejoin="round">
<path d="M0,-3.9 H7 L11.6,-9 V9 L7,3.9 H0Z"/>
<ellipse cx="12.3" cy="0" rx="1.6" ry="9.2" stroke-width="1.2"/>
<path d="M16,-4.6 L21.6,-9.2 M16,0 H22.6 M16,4.6 L21.6,9.2" fill="none"/>
</g>
<g transform="translate(1029 136.4) rotate(28)"><rect x="-2.8" y="-8.25" width="5.6" height="16.5" rx="1.3" fill="#E6BE8A" stroke="#B98F58" stroke-width="0.8"/><ellipse cx="0" cy="-7.05" rx="2.4" ry="1.2" fill="#EBCB9E" stroke="#B98F58" stroke-width="0.6"/></g>
<path d="M1089.6,62.4 C1066,64 1046,86 1043.9,123" stroke-width="2.2" stroke="#333" fill="none" stroke-linecap="round"/>
<path d="M1036.7,127.1C1036.8,126.5 1038.2,125.5 1038.9,125C1039.6,124.5 1040.4,124.3 1041.2,124C1042,123.7 1043.5,123.3 1044.2,123.3C1045,123.3 1045.6,123.8 1046.2,123.7C1046.8,123.6 1047.4,122.5 1047.9,122.5C1048.4,122.5 1048.7,123.3 1049.3,123.4C1049.9,123.5 1051.2,123.1 1052.2,122.9C1053.2,122.8 1054.7,122.5 1055.7,122.4C1056.8,122.3 1058.2,122.3 1059.2,122.4C1060.2,122.5 1061.6,122.8 1062.7,123.2C1063.8,123.6 1065.3,124.2 1066.3,124.8C1067.3,125.4 1068.5,126.6 1069.2,127.4C1069.9,128.2 1070.6,129.5 1071.2,130.4C1071.8,131.3 1072.3,132.6 1072.9,133.4C1073.5,134.2 1074.1,135.3 1074.9,136C1075.7,136.7 1076.8,137.6 1078,138C1079.2,138.4 1080.8,138.7 1082.7,138.9C1084.6,139.1 1088.2,139.1 1090.7,139.2C1093.2,139.3 1098.2,139.2 1099.5,139.4C1100.8,139.6 1100.8,140.2 1099.5,140.4C1098.2,140.6 1093.4,140.6 1090.7,140.6C1088,140.6 1083.8,140.7 1081.7,140.6C1079.6,140.5 1078,140.2 1076.7,139.8C1075.4,139.4 1074.1,138.6 1073.2,138.2C1072.3,137.8 1071.5,137 1070.7,137C1069.9,137 1068.7,138 1067.9,138.4C1067.1,138.8 1065.7,139.2 1065.2,139.6C1064.7,140 1065.1,140.7 1064.5,141C1063.9,141.3 1062,141.5 1061.2,141.4C1060.5,141.3 1059.4,140.8 1059.5,140.4C1059.6,140 1061.9,139.1 1061.9,138.8C1061.9,138.5 1060.5,138.3 1059.7,138.2C1058.9,138.1 1057.6,137.9 1056.7,138C1055.8,138.1 1054.3,138.6 1053.7,139C1053.1,139.4 1053.2,140.3 1052.5,140.6C1051.8,140.9 1049.9,141.1 1049.3,141C1048.7,140.9 1048.5,140.2 1048.7,139.8C1048.9,139.4 1050.5,138.8 1050.7,138.4C1050.9,138 1050.6,137 1050.3,136.8C1050,136.6 1049.3,137.1 1048.5,137.2C1047.7,137.3 1045.8,137.8 1045.2,137.7C1044.6,137.6 1043.9,137.1 1044.2,136.8C1044.5,136.5 1047,136 1047.2,135.6C1047.4,135.2 1046.4,134.5 1045.7,134C1045,133.5 1043.5,132.7 1042.7,132.2C1041.9,131.7 1041,131.2 1040.3,130.8C1039.6,130.4 1038.7,129.8 1038.2,129.2C1037.7,128.6 1036.6,127.7 1036.7,127.1Z" fill="#000"/>
<line x1="1140.2" y1="117.9" x2="1162.9" y2="117.9" stroke-width="2.2" stroke="#000"/>
<path d="M1173.7,117.9 L1155.7,110.30000000000001 L1160.74,117.9 L1155.7,125.5Z" fill="#000"/>
<g stroke="#000" stroke-width="2.9">
<line x1="1194.3" y1="159.6" x2="1214.1" y2="128.3"/>
<line x1="1205.2" y1="159.6" x2="1225" y2="128.3"/>
<line x1="1216.1" y1="159.6" x2="1235.9" y2="128.3"/>
<line x1="1227" y1="159.6" x2="1246.8" y2="128.3"/>
<line x1="1237.9" y1="159.6" x2="1257.7" y2="128.3"/>
<line x1="1248.8" y1="159.6" x2="1268.6" y2="128.3"/>
<line x1="1259.7" y1="159.6" x2="1279.5" y2="128.3"/>
</g>
<g fill="none" stroke="#000" stroke-width="1.2" stroke-linejoin="round">
<polygon points="1201.1,56.3 1288.6,56.3 1289.1,128.3 1202.4,128.3"/>
<polygon points="1182.4,87.4 1269.6,87.4 1269.6,159.6 1182.6,159.6"/>
<line x1="1182.4" y1="87.4" x2="1201.1" y2="56.3"/>
<line x1="1269.6" y1="87.4" x2="1288.6" y2="56.3"/>
<line x1="1269.6" y1="159.6" x2="1289.1" y2="128.3"/>
<line x1="1182.6" y1="159.6" x2="1202.4" y2="128.3"/>
</g>
<g transform="translate(1205.4 72.2) scale(1.0)" fill="#fff" stroke="#000" stroke-width="1.4" stroke-linecap="round" stroke-linejoin="round">
<path d="M0,-3.9 H7 L11.6,-9 V9 L7,3.9 H0Z"/>
<ellipse cx="12.3" cy="0" rx="1.6" ry="9.2" stroke-width="1.2"/>
<path d="M16,-4.6 L21.6,-9.2 M16,0 H22.6 M16,4.6 L21.6,9.2" fill="none"/>
</g>
<polygon points="1201.1,131.9 1214.2,143 1208.7,145.5 1213.7,157.6 1201.6,146 1206.9,143" fill="#FF0000"/>
<polygon points="1217.1,130.4 1230.2,141.5 1224.7,144 1229.7,156.1 1217.6,144.5 1222.9,141.5" fill="#FF0000"/>
<path d="M1226.5,97.8C1226.8,97.4 1227.8,97.3 1228.7,97.2C1229.6,97.1 1231.7,97.2 1232.7,97.4C1233.8,97.6 1235,98.5 1235.7,98.6C1236.5,98.7 1237,97.9 1237.7,97.8C1238.4,97.7 1239.7,97.7 1240.2,98C1240.7,98.3 1240.9,99 1240.8,99.6C1240.7,100.2 1239.9,100.9 1239.8,101.8C1239.7,102.7 1239.8,104.5 1240.2,105.7C1240.6,106.9 1242,108.4 1242.7,109.7C1243.4,111 1244.4,112.8 1245,114.2C1245.6,115.6 1245.9,117.7 1246.4,119.2C1246.9,120.7 1247.6,122.7 1248.2,124.2C1248.8,125.7 1250.1,127.8 1250.7,129.2C1251.3,130.6 1252.1,132.4 1252.4,133.7C1252.7,135 1252.9,136.6 1252.6,137.7C1252.3,138.8 1251.4,139.8 1250.7,140.7C1250,141.6 1248.9,142.9 1248.2,143.7C1247.5,144.5 1247,145.4 1246.2,146C1245.4,146.6 1243.8,147.5 1242.7,147.7C1241.6,147.9 1239.4,147.5 1238.7,147.2C1238,146.9 1237.8,146.2 1238.2,146C1238.7,145.8 1241,145.9 1241.7,145.6C1242.4,145.3 1243.3,143.9 1243,143.7C1242.7,143.5 1240.6,143.9 1239.7,144C1238.8,144.1 1237.2,144.4 1236.7,144.2C1236.2,144 1235.9,143.2 1236.2,142.7C1236.5,142.2 1238.2,141.5 1238.8,140.7C1239.4,139.9 1240,138.1 1240.2,137.2C1240.4,136.3 1240.1,135.6 1239.8,134.7C1239.5,133.8 1238.6,132.4 1238,131.2C1237.4,130 1236.3,128.1 1235.8,126.7C1235.3,125.4 1235.2,123.4 1234.8,122.2C1234.4,121 1233.8,119.5 1233.2,118.7C1232.6,117.9 1231.7,117.3 1230.7,117C1229.7,116.7 1227.5,117 1226.8,116.8C1226.1,116.6 1225.8,115.7 1226.2,115.4C1226.6,115.1 1228.7,115.2 1229.4,114.6C1230.1,114 1230.5,112.7 1230.8,111.7C1231.1,110.7 1231.4,109.2 1231.4,108.2C1231.4,107.2 1231,106.1 1230.6,105.2C1230.2,104.3 1229.2,103 1228.6,102.2C1228,101.4 1226.9,100.5 1226.6,99.8C1226.3,99.1 1226.2,98.2 1226.5,97.8Z" fill="#000"/>
<path d="M1251.7,136.7C1252.3,137 1254,138.2 1255.2,138.7C1256.5,139.2 1258,139.5 1259.2,139.5C1260.5,139.5 1261.6,138.7 1262.7,138.8C1263.8,139 1264.8,139.7 1265.7,140.4C1266.6,141.1 1267.2,142.3 1268.2,142.8C1269.2,143.3 1270.6,143.5 1271.7,143.6C1272.8,143.7 1274.2,143.6 1274.7,143.6" fill="none" stroke="#000" stroke-width="1.20" stroke-linecap="round"/>
<line x1="1300.5" y1="117.9" x2="1323.0" y2="117.9" stroke-width="2.2" stroke="#000"/>
<path d="M1333.8,117.9 L1315.8,110.30000000000001 L1320.84,117.9 L1315.8,125.5Z" fill="#000"/>
<g fill="none" stroke="#000" stroke-width="1.8" stroke-linejoin="round">
<polygon points="1345.7,108.6 1365.4,74.8 1365.4,126.3 1344.9,159.3" fill="#969191"/>
<polygon points="1453.8,108.6 1473.9,74.8 1473.4,126.3 1453.2,159.3" fill="#969191"/>
<polygon points="1365.4,74.8 1473.9,74.8 1473.4,126.3 1365.4,126.3"/>
<polygon points="1345.7,108.6 1453.8,108.6 1453.2,159.3 1344.9,159.3"/>
<line x1="1345.7" y1="108.6" x2="1365.4" y2="74.8"/>
<line x1="1453.8" y1="108.6" x2="1473.9" y2="74.8"/>
<line x1="1453.2" y1="159.3" x2="1473.4" y2="126.3"/>
<line x1="1344.9" y1="159.3" x2="1365.4" y2="126.3"/>
</g>
<g transform="translate(1370 89.3) scale(1.0)" fill="#fff" stroke="#000" stroke-width="1.4" stroke-linecap="round" stroke-linejoin="round">
<path d="M0,-3.9 H7 L11.6,-9 V9 L7,3.9 H0Z"/>
<ellipse cx="12.3" cy="0" rx="1.6" ry="9.2" stroke-width="1.2"/>
<path d="M16,-4.6 L21.6,-9.2 M16,0 H22.6 M16,4.6 L21.6,9.2" fill="none"/>
</g>
<g transform="translate(1374.3 136.2) rotate(28)"><rect x="-2.8" y="-8.25" width="5.6" height="16.5" rx="1.3" fill="#E6BE8A" stroke="#B98F58" stroke-width="0.8"/><ellipse cx="0" cy="-7.05" rx="2.4" ry="1.2" fill="#EBCB9E" stroke="#B98F58" stroke-width="0.6"/></g>
<path d="M1452.9,61.2 C1430,63 1411,82 1409.8,116.5" stroke-width="2.2" stroke="#8E7E17" fill="none" stroke-linecap="round"/>
<path d="M1403.2,119C1403.3,118.4 1404.7,117.4 1405.4,116.9C1406.1,116.4 1406.9,116.2 1407.7,115.9C1408.5,115.6 1410,115.2 1410.7,115.2C1411.5,115.2 1412.1,115.7 1412.7,115.6C1413.3,115.5 1413.9,114.4 1414.4,114.4C1414.9,114.4 1415.2,115.2 1415.8,115.3C1416.4,115.4 1417.7,115 1418.7,114.8C1419.7,114.6 1421.2,114.4 1422.2,114.3C1423.2,114.2 1424.7,114.2 1425.7,114.3C1426.8,114.4 1428.1,114.7 1429.2,115.1C1430.3,115.5 1431.8,116.1 1432.8,116.7C1433.8,117.3 1435,118.5 1435.7,119.3C1436.4,120.1 1437.1,121.4 1437.7,122.3C1438.3,123.2 1438.8,124.5 1439.4,125.3C1440,126.1 1440.6,127.2 1441.4,127.9C1442.2,128.6 1443.3,129.5 1444.5,129.9C1445.7,130.3 1447.3,130.6 1449.2,130.8C1451.1,131 1454.7,131 1457.2,131.1C1459.7,131.2 1464.7,131.1 1466,131.3C1467.3,131.5 1467.3,132.1 1466,132.3C1464.7,132.5 1459.9,132.5 1457.2,132.5C1454.5,132.5 1450.3,132.6 1448.2,132.5C1446.1,132.4 1444.5,132.1 1443.2,131.7C1441.9,131.3 1440.6,130.5 1439.7,130.1C1438.8,129.7 1438,128.9 1437.2,128.9C1436.4,128.9 1435.2,129.9 1434.4,130.3C1433.6,130.7 1432.2,131.1 1431.7,131.5C1431.2,131.9 1431.6,132.6 1431,132.9C1430.4,133.2 1428.5,133.4 1427.7,133.3C1427,133.2 1425.9,132.7 1426,132.3C1426.1,131.9 1428.4,131 1428.4,130.7C1428.4,130.4 1427,130.2 1426.2,130.1C1425.4,130 1424.1,129.8 1423.2,129.9C1422.3,130 1420.8,130.5 1420.2,130.9C1419.6,131.3 1419.7,132.2 1419,132.5C1418.3,132.8 1416.4,133 1415.8,132.9C1415.2,132.8 1415,132.1 1415.2,131.7C1415.4,131.3 1417,130.8 1417.2,130.3C1417.4,129.9 1417.1,128.9 1416.8,128.7C1416.5,128.5 1415.8,129 1415,129.1C1414.2,129.2 1412.3,129.7 1411.7,129.6C1411.1,129.5 1410.4,129 1410.7,128.7C1411,128.4 1413.5,127.9 1413.7,127.5C1413.9,127.1 1412.9,126.4 1412.2,125.9C1411.5,125.4 1410,124.6 1409.2,124.1C1408.4,123.6 1407.5,123.2 1406.8,122.7C1406.1,122.2 1405.2,121.7 1404.7,121.1C1404.2,120.5 1403.1,119.6 1403.2,119Z" fill="#000"/>
<text x="989" y="196.4" textLength="35" lengthAdjust="spacingAndGlyphs">CS</text>
<path d="M1002.6,205.2H1033.4V182.8H1042.8V205.2H1054.3V182.8H1064.4V205.2H1074.2V182.8H1084.3V205.2H1094.8V182.8H1105V205.2" stroke-width="2" stroke="#000" fill="none" stroke-linejoin="miter"/>
<text x="1180.4" y="196.4" textLength="35" lengthAdjust="spacingAndGlyphs">CS</text>
<path d="M1196.3,205.2H1226.7V182.8H1231.3V205.2H1242.8V182.8H1247.6V205.2H1257.9" stroke-width="2" stroke="#000" fill="none" stroke-linejoin="miter"/>
<text x="1180.4" y="245" textLength="35" lengthAdjust="spacingAndGlyphs">US</text>
<line x1="1196.3" y1="255.9" x2="1257.9" y2="255.9" stroke-width="2" stroke="#000"/>
<line x1="1230.9" y1="232.9" x2="1230.9" y2="255.2" stroke-width="2" stroke="#E6193C"/>
<line x1="1247.1" y1="232.9" x2="1247.1" y2="255.2" stroke-width="2" stroke="#E6193C"/>
<text x="1337" y="196.4" textLength="35" lengthAdjust="spacingAndGlyphs">CS</text>
<path d="M1349.3,204.7H1379.6V182.4H1389.9V204.7H1400.4V182.4H1410.8V204.7H1420.9V182.4H1431.4V204.7H1441.2V182.4H1451.3V204.7" stroke-width="2" stroke="#000" fill="none" stroke-linejoin="miter"/>
<text x="1337" y="231.8" fill="#A65E0E" style="stroke:#A65E0E" textLength="199" lengthAdjust="spacingAndGlyphs">Cont. yellow light</text>
<rect x="1379.6" y="241.2" width="10.3" height="14.5" fill="#F2B211"/>
<rect x="1400.4" y="241.2" width="10.4" height="14.5" fill="#F2B211"/>
<rect x="1420.5" y="241.2" width="10.3" height="14.5" fill="#F2B211"/>
<rect x="1440.8" y="241.2" width="10.5" height="14.5" fill="#F2B211"/>
<line x1="1348.6" y1="255.9" x2="1451.9" y2="255.9" stroke-width="2" stroke="#000"/>
<g fill="none" stroke="#FDBF86" stroke-width="1.2" stroke-linejoin="round">
<polyline points="979.4,515 1017.4,509.7 1055.1,508.5 1092.5,508.7 1130.2,510.7"/>
<polyline points="979.4,514.9 1017.4,508.7 1055.1,511.2 1092.5,509 1130.2,511.8"/>
<polyline points="979.4,515.9 1017.4,509.5 1055.1,510.7 1092.5,511.9 1130.2,514.4"/>
<polyline points="979.4,515.3 1017.4,516.1 1055.1,516.1 1092.5,515.9 1130.2,514.4"/>
<polyline points="979.4,512.8 1017.4,505.9 1055.1,510.7 1092.5,513.2 1130.2,510.8"/>
<polyline points="979.4,515.7 1017.4,515.1 1055.1,506.5 1092.5,510.7 1130.2,508.4"/>
</g>
<g fill="none" stroke="#999999" stroke-width="1.2" stroke-linejoin="round">
<polyline points="979.4,513.9 1017.4,515.9 1055.1,509.4 1092.5,511.5 1130.2,512.2"/>
<polyline points="979.4,515.4 1017.4,514.3 1055.1,516.1 1092.5,514.6 1130.2,508.3"/>
<polyline points="979.4,514.6 1017.4,514.7 1055.1,506.6 1092.5,513.6 1130.2,515.3"/>
<polyline points="979.4,514.2 1017.4,516.1 1055.1,513.9 1092.5,513.1 1130.2,515.7"/>
<polyline points="979.4,512.8 1017.4,509.9 1055.1,510.2 1092.5,512.6 1130.2,514.8"/>
<polyline points="979.4,514.4 1017.4,507.5 1055.1,511.4 1092.5,512.3 1130.2,516.1"/>
</g>
<g fill="none" stroke="#FDBF86" stroke-width="1.2" stroke-linejoin="round">
<polyline points="1181.3,513.7 1219,514 1256.5,511.7"/>
<polyline points="1181.3,514.2 1219,512.1 1256.5,503"/>
<polyline points="1181.3,514.5 1219,513 1256.5,494.3"/>
<polyline points="1181.3,513.8 1219,509.7 1256.5,485.6"/>
<polyline points="1181.3,514.8 1219,511.6 1256.5,476.8"/>
<polyline points="1181.3,515.9 1219,511.4 1256.5,468.1"/>
<polyline points="1181.3,514.3 1219,509.4 1256.5,459.4"/>
<polyline points="1181.3,513.9 1219,514.2 1256.5,450.6"/>
<polyline points="1181.3,515.1 1219,511.6 1256.5,441.9"/>
<polyline points="1181.3,516 1219,513 1256.5,433.2"/>
<polyline points="1181.3,515.6 1219,515.3 1256.5,424.5"/>
<polyline points="1181.3,515.9 1219,510.9 1256.5,415.7"/>
<polyline points="1181.3,515.7 1219,514.4 1256.5,407"/>
<polyline points="1181.3,515 1219,508.2 1256.5,398.3"/>
<polyline points="1181.3,515.9 1219,512 1256.5,389.6"/>
</g>
<g fill="none" stroke="#999999" stroke-width="1.2" stroke-linejoin="round">
<polyline points="1181.3,514.6 1219,510.1 1256.5,512.6"/>
<polyline points="1181.3,513.9 1219,510.2 1256.5,505.7"/>
<polyline points="1181.3,515.3 1219,513.3 1256.5,498.8"/>
<polyline points="1181.3,515.1 1219,510.1 1256.5,491.9"/>
<polyline points="1181.3,513.5 1219,515.1 1256.5,485"/>
<polyline points="1181.3,515.6 1219,514.5 1256.5,478"/>
<polyline points="1181.3,515.5 1219,512.8 1256.5,471.1"/>
<polyline points="1181.3,514.5 1219,514.3 1256.5,464.2"/>
<polyline points="1181.3,516.1 1219,513.3 1256.5,457.3"/>
<polyline points="1181.3,515.1 1219,512.3 1256.5,450.3"/>
<polyline points="1181.3,513.5 1219,511.4 1256.5,443.4"/>
<polyline points="1181.3,514.7 1219,511.9 1256.5,436.5"/>
<polyline points="1181.3,514.3 1219,515.7 1256.5,429.6"/>
<polyline points="1181.3,513.7 1219,509.1 1256.5,422.7"/>
<polyline points="1181.3,513.7 1219,508.9 1256.5,415.7"/>
</g>
<g fill="none" stroke="#FDBF86" stroke-width="1.2" stroke-linejoin="round">
<polyline points="1312.3,511.5 1350,309.3 1387.7,300.5 1425.4,315.7 1463,304.7"/>
<polyline points="1312.3,511.5 1350,310.2 1387.7,324.9 1425.4,296.5 1463,324.9"/>
<polyline points="1312.3,511.5 1350,314.8 1387.7,332.2 1425.4,327.3 1463,361.6"/>
<polyline points="1312.3,511.5 1350,324 1387.7,335 1425.4,353.3 1463,368"/>
<polyline points="1312.3,511.5 1350,324.9 1387.7,357 1425.4,366.2 1463,375.3"/>
<polyline points="1312.3,511.5 1350,349.7 1387.7,343.2 1425.4,390 1463,360.7"/>
<polyline points="1312.3,511.5 1350,347.8 1387.7,344.2 1425.4,397.3 1463,379.9"/>
<polyline points="1312.3,511.5 1350,368 1387.7,390 1425.4,366.2 1463,390"/>
<polyline points="1312.3,511.5 1350,371.7 1387.7,397.3 1425.4,371.7 1463,406.5"/>
<polyline points="1312.3,511.5 1350,421.2 1387.7,415.7 1425.4,452.3 1463,425.7"/>
<polyline points="1312.3,511.5 1350,438.6 1387.7,426.7 1425.4,445 1463,481.6"/>
<polyline points="1312.3,511.5 1350,375.3 1387.7,408.3 1425.4,393.7 1463,391.8"/>
<polyline points="1312.3,511.5 1350,379 1387.7,423 1425.4,441.3 1463,474.3"/>
<polyline points="1312.3,511.5 1350,362.5 1387.7,382.7 1425.4,423 1463,490.8"/>
</g>
<g fill="none" stroke="#999999" stroke-width="1.2" stroke-linejoin="round">
<polyline points="1312.3,511.5 1350,345.1 1387.7,333.5 1425.4,362.5 1463,339.6"/>
<polyline points="1312.3,511.5 1350,351.5 1387.7,368 1425.4,341.4 1463,369.8"/>
<polyline points="1312.3,511.5 1350,353.3 1387.7,375.3 1425.4,384.5 1463,423"/>
<polyline points="1312.3,511.5 1350,357 1387.7,390 1425.4,408.3 1463,448.7"/>
<polyline points="1312.3,511.5 1350,375.3 1387.7,401 1425.4,423 1463,445"/>
<polyline points="1312.3,511.5 1350,382.7 1387.7,459.7 1425.4,463.3 1463,500"/>
<polyline points="1312.3,511.5 1350,390 1387.7,496.3 1425.4,426.7 1463,487.1"/>
<polyline points="1312.3,511.5 1350,444.1 1387.7,509.1 1425.4,474.3 1463,505.5"/>
<polyline points="1312.3,511.5 1350,408.3 1387.7,368 1425.4,397.3 1463,492.6"/>
<polyline points="1312.3,511.5 1350,413.8 1387.7,382.7 1425.4,393.7 1463,481.6"/>
<polyline points="1312.3,511.5 1350,426.7 1387.7,393.7 1425.4,419.3 1463,498.1"/>
<polyline points="1312.3,511.5 1350,397.3 1387.7,426.7 1425.4,465.2 1463,502.7"/>
<polyline points="1312.3,511.5 1350,368 1387.7,408.3 1425.4,456 1463,489"/>
<polyline points="1312.3,511.5 1350,364.3 1387.7,397.3 1425.4,432.2 1463,465.2"/>
<polyline points="1312.3,511.5 1350,510.1 1387.7,507.3 1425.4,514.3 1463,513.2"/>
<polyline points="1312.3,511.5 1350,379 1387.7,390 1425.4,397.3 1463,452.3"/>
</g>
<g stroke="#000" stroke-width="3" fill="none" stroke-linecap="butt">
<line x1="961.9" y1="289.2" x2="961.9" y2="517.3"/>
<line x1="953.3" y1="516.1" x2="961.9" y2="516.1"/>
<line x1="953.3" y1="459.7" x2="961.9" y2="459.7"/>
<line x1="953.3" y1="403.2" x2="961.9" y2="403.2"/>
<line x1="953.3" y1="346.8" x2="961.9" y2="346.8"/>
<line x1="953.3" y1="290.4" x2="961.9" y2="290.4"/>
<line x1="960.7" y1="516.1" x2="1149.8" y2="516.1"/>
<line x1="1146.3" y1="524.6" x2="1156.3" y2="507.6" stroke-width="3"/>
<line x1="1157.8" y1="524.6" x2="1167.8" y2="507.6" stroke-width="3"/>
<line x1="1164.3" y1="516.1" x2="1279.1" y2="516.1"/>
<line x1="1275.6" y1="524.6" x2="1285.6" y2="507.6" stroke-width="3"/>
<line x1="1286.8" y1="524.6" x2="1296.8" y2="507.6" stroke-width="3"/>
<line x1="1293.3" y1="516.1" x2="1482.8" y2="516.1"/>
<line x1="979.4" y1="516.1" x2="979.4" y2="523.7"/>
<line x1="1017.4" y1="516.1" x2="1017.4" y2="523.7"/>
<line x1="1055.1" y1="516.1" x2="1055.1" y2="523.7"/>
<line x1="1092.5" y1="516.1" x2="1092.5" y2="523.7"/>
<line x1="1130.2" y1="516.1" x2="1130.2" y2="523.7"/>
<line x1="1181.3" y1="516.1" x2="1181.3" y2="523.7"/>
<line x1="1219.0" y1="516.1" x2="1219.0" y2="523.7"/>
<line x1="1256.5" y1="516.1" x2="1256.5" y2="523.7"/>
<line x1="1312.3" y1="516.1" x2="1312.3" y2="523.7"/>
<line x1="1350" y1="516.1" x2="1350" y2="523.7"/>
<line x1="1387.7" y1="516.1" x2="1387.7" y2="523.7"/>
<line x1="1425.4" y1="516.1" x2="1425.4" y2="523.7"/>
<line x1="1463" y1="516.1" x2="1463" y2="523.7"/>
</g>
<g font-size="26.5">
<text x="940.1" y="525.2" text-anchor="end">0</text>
<text x="940.1" y="468.8" text-anchor="end">25</text>
<text x="940.1" y="412.4" text-anchor="end">50</text>
<text x="940.1" y="355.9" text-anchor="end">75</text>
<text x="940.1" y="299.5" text-anchor="end">100</text>
<text x="983.1" y="558.2" text-anchor="middle">BS</text>
<text x="1018.5" y="558.2" text-anchor="middle">1</text>
<text x="1056.2" y="558.2" text-anchor="middle">2</text>
<text x="1093.6" y="558.2" text-anchor="middle">3</text>
<text x="1131.3" y="558.2" text-anchor="middle">4</text>
<text x="1185" y="558.2" text-anchor="middle">BS</text>
<text x="1220.1" y="558.2" text-anchor="middle">1</text>
<text x="1257.6" y="558.2" text-anchor="middle">2</text>
<text x="1316" y="558.2" text-anchor="middle">BS</text>
<text x="1351.1" y="558.2" text-anchor="middle">1</text>
<text x="1388.8" y="558.2" text-anchor="middle">2</text>
<text x="1426.5" y="558.2" text-anchor="middle">3</text>
<text x="1464.1" y="558.2" text-anchor="middle">4</text>
<text x="1184.6" y="601.9">Trial no.</text>
<text x="864.5" y="393.7" text-anchor="middle" transform="rotate(-90 864.5 393.7)">Freezing (%)</text>
</g>
<g stroke="#C55A0B" fill="#C55A0B">
<polyline points="979.4,514.4 1017.4,514.8 1055.1,515 1092.5,514.8 1130.2,515.2" fill="none" stroke-width="2.3" stroke-linejoin="round"/>
<circle cx="979.4" cy="514.4" r="4.2" stroke="none"/>
<circle cx="1017.4" cy="514.8" r="4.2" stroke="none"/>
<circle cx="1055.1" cy="515" r="4.2" stroke="none"/>
<circle cx="1092.5" cy="514.8" r="4.2" stroke="none"/>
<circle cx="1130.2" cy="515.2" r="4.2" stroke="none"/>
</g>
<g stroke="#333333" fill="#333333">
<polyline points="979.4,514.6 1017.4,513.6 1055.1,514.2 1092.5,513.6 1130.2,513.8" fill="none" stroke-width="2.3" stroke-linejoin="round"/>
<circle cx="979.4" cy="514.6" r="4.2" stroke="none"/>
<circle cx="1017.4" cy="513.6" r="4.2" stroke="none"/>
<circle cx="1055.1" cy="514.2" r="4.2" stroke="none"/>
<circle cx="1092.5" cy="513.6" r="4.2" stroke="none"/>
<circle cx="1130.2" cy="513.8" r="4.2" stroke="none"/>
</g>
<g stroke="#C55A0B" fill="#C55A0B">
<path d="M1256.5,457.5V483.5M1252.3,457.5h8.4M1252.3,483.5h8.4" stroke-width="2.0" fill="none"/>
<polyline points="1181.3,514.4 1219,513.8 1256.5,470.5" fill="none" stroke-width="2.3" stroke-linejoin="round"/>
<circle cx="1181.3" cy="514.4" r="4.2" stroke="none"/>
<circle cx="1219" cy="513.8" r="4.2" stroke="none"/>
<circle cx="1256.5" cy="470.5" r="4.2" stroke="none"/>
</g>
<g stroke="#333333" fill="#333333">
<path d="M1256.5,466.1V483.1M1252.3,466.1h8.4M1252.3,483.1h8.4" stroke-width="2.0" fill="none"/>
<polyline points="1181.3,514.4 1219,513.8 1256.5,474.6" fill="none" stroke-width="2.3" stroke-linejoin="round"/>
<circle cx="1181.3" cy="514.4" r="4.2" stroke="none"/>
<circle cx="1219" cy="513.8" r="4.2" stroke="none"/>
<circle cx="1256.5" cy="474.6" r="4.2" stroke="none"/>
</g>
<g stroke="#C55A0B" fill="#C55A0B">
<path d="M1350,352.9V374.5M1345.8,352.9h8.4M1345.8,374.5h8.4" stroke-width="2.0" fill="none"/>
<path d="M1387.7,362.1V385.7M1383.5,362.1h8.4M1383.5,385.7h8.4" stroke-width="2.0" fill="none"/>
<path d="M1425.4,371.4V397.4M1421.2,371.4h8.4M1421.2,397.4h8.4" stroke-width="2.0" fill="none"/>
<path d="M1463,385.7V414.3M1458.8,385.7h8.4M1458.8,414.3h8.4" stroke-width="2.0" fill="none"/>
<polyline points="1350,363.7 1387.7,373.9 1425.4,384.4 1463,400" fill="none" stroke-width="2.3" stroke-linejoin="round"/>
<circle cx="1350" cy="363.7" r="4.2" stroke="none"/>
<circle cx="1387.7" cy="373.9" r="4.2" stroke="none"/>
<circle cx="1425.4" cy="384.4" r="4.2" stroke="none"/>
<circle cx="1463" cy="400" r="4.2" stroke="none"/>
</g>
<g stroke="#333333" fill="#333333">
<path d="M1350,388.5V410.5M1345.8,388.5h8.4M1345.8,410.5h8.4" stroke-width="2.0" fill="none"/>
<path d="M1387.7,399.6V428.4M1383.5,399.6h8.4M1383.5,428.4h8.4" stroke-width="2.0" fill="none"/>
<path d="M1425.4,414.4V438.4M1421.2,414.4h8.4M1421.2,438.4h8.4" stroke-width="2.0" fill="none"/>
<path d="M1463,450.6V477.6M1458.8,450.6h8.4M1458.8,477.6h8.4" stroke-width="2.0" fill="none"/>
<polyline points="1350,399.5 1387.7,414 1425.4,426.4 1463,464.1" fill="none" stroke-width="2.3" stroke-linejoin="round"/>
<circle cx="1350" cy="399.5" r="4.2" stroke="none"/>
<circle cx="1387.7" cy="414" r="4.2" stroke="none"/>
<circle cx="1425.4" cy="426.4" r="4.2" stroke="none"/>
<circle cx="1463" cy="464.1" r="4.2" stroke="none"/>
</g>
<circle cx="1312.3" cy="511.7" r="4.1" fill="#333333"/>
<path d="M1476.5,400.6H1486V465.8H1476.5" fill="none" stroke="#000" stroke-width="3"/>
<text x="1495.5" y="447" font-size="26.5">**</text>
<line x1="978.3" y1="299.6" x2="999.1" y2="299.6" stroke-width="1.2" stroke="#999999"/>
<line x1="1016.7" y1="299.6" x2="1038.5" y2="299.6" stroke-width="2.3" stroke="#333333"/>
<circle cx="1027.6" cy="299.6" r="4.1" fill="#333333"/>
<text x="1051.6" y="305.8" font-size="26.5">mCherry</text>
<line x1="978.3" y1="340" x2="999.1" y2="340" stroke-width="1.2" stroke="#FDBF86"/>
<line x1="1016.7" y1="340" x2="1038.5" y2="340" stroke-width="2.3" stroke="#C55A0B"/>
<circle cx="1027.6" cy="340" r="4.1" fill="#C55A0B"/>
<text x="1051.6" y="348.9" font-size="26.5">NpHR</text>
</g>
<g id="panel-c">
<text x="1665" y="27" font-size="34.7" font-weight="bold" stroke-width="0">c</text>
<rect x="1822.6" y="137" width="17.5" height="17.5" fill="#fff" stroke="#000" stroke-width="2.1"/>
<text x="1853.3" y="154.4" font-size="26.5">mCherry</text>
<rect x="1822.6" y="182" width="17.5" height="17.5" fill="#fff" stroke="#C86A14" stroke-width="2.1"/>
<text x="1853.3" y="199.6" font-size="26.5">NpHR</text>
<g fill="none" stroke="#999999" stroke-width="1.3">
<circle cx="1826" cy="303.7" r="2.9"/>
<circle cx="1826" cy="328.3" r="2.9"/>
<circle cx="1826" cy="334.8" r="2.9"/>
<circle cx="1826" cy="338.5" r="2.9"/>
<circle cx="1826" cy="345.5" r="2.9"/>
<circle cx="1826" cy="352.4" r="2.9"/>
<circle cx="1826" cy="359.4" r="2.9"/>
<circle cx="1826" cy="375.6" r="2.9"/>
<circle cx="1826" cy="390.9" r="2.9"/>
<circle cx="1826" cy="391.8" r="2.9"/>
<circle cx="1826" cy="416" r="2.9"/>
<circle cx="1826" cy="422.9" r="2.9"/>
<circle cx="1826" cy="434" r="2.9"/>
</g>
<g fill="none" stroke="#999999" stroke-width="1.3">
<circle cx="1856.1" cy="345.5" r="2.9"/>
<circle cx="1856.1" cy="364" r="2.9"/>
<circle cx="1856.1" cy="371.9" r="2.9"/>
<circle cx="1856.1" cy="381.2" r="2.9"/>
<circle cx="1856.1" cy="383.9" r="2.9"/>
<circle cx="1856.1" cy="391.8" r="2.9"/>
<circle cx="1856.1" cy="394.2" r="2.9"/>
<circle cx="1856.1" cy="412.7" r="2.9"/>
<circle cx="1856.1" cy="416.4" r="2.9"/>
<circle cx="1856.1" cy="426.6" r="2.9"/>
<circle cx="1856.1" cy="430.3" r="2.9"/>
<circle cx="1856.1" cy="447" r="2.9"/>
</g>
<g fill="none" stroke="#F9B26C" stroke-width="1.3">
<circle cx="1896" cy="318.6" r="2.9"/>
<circle cx="1896" cy="326.9" r="2.9"/>
<circle cx="1896" cy="333.9" r="2.9"/>
<circle cx="1896" cy="337.1" r="2.9"/>
<circle cx="1896" cy="343.1" r="2.9"/>
<circle cx="1896" cy="346.9" r="2.9"/>
<circle cx="1896" cy="356.1" r="2.9"/>
<circle cx="1896" cy="359.4" r="2.9"/>
<circle cx="1896" cy="361.7" r="2.9"/>
<circle cx="1896" cy="393.2" r="2.9"/>
<circle cx="1896" cy="397.9" r="2.9"/>
<circle cx="1896" cy="407.1" r="2.9"/>
<circle cx="1896" cy="409.9" r="2.9"/>
</g>
<g fill="none" stroke="#F9B26C" stroke-width="1.3">
<circle cx="1927.5" cy="363.1" r="2.9"/>
<circle cx="1927.5" cy="366.3" r="2.9"/>
<circle cx="1927.5" cy="369.6" r="2.9"/>
<circle cx="1927.5" cy="373.3" r="2.9"/>
<circle cx="1927.5" cy="376.5" r="2.9"/>
<circle cx="1927.5" cy="383" r="2.9"/>
<circle cx="1927.5" cy="388.6" r="2.9"/>
<circle cx="1927.5" cy="392.8" r="2.9"/>
<circle cx="1927.5" cy="423.4" r="2.9"/>
</g>
<line x1="1813" y1="346.4" x2="1965.5" y2="346.4" stroke="#000" stroke-width="2" stroke-dasharray="9 3.6"/>
<rect x="1833.6" y="346.4" width="12.8" height="19.9" fill="#fff" stroke="#000" stroke-width="2.2"/>
<path d="M1840,356.1V375.6M1835.4,356.1h9.2M1835.4,375.6h9.2" fill="none" stroke="#000" stroke-width="2"/>
<rect x="1864.6" y="346.4" width="12.8" height="46.4" fill="#fff" stroke="#000" stroke-width="2.2"/>
<path d="M1871,385.8V399.7M1866.4,385.8h9.2M1866.4,399.7h9.2" fill="none" stroke="#000" stroke-width="2"/>
<rect x="1904.4" y="346.4" width="12.4" height="13.9" fill="#fff" stroke="#C55A0B" stroke-width="2.2"/>
<path d="M1910.6,352.4V368.7M1906,352.4h9.2M1906,368.7h9.2" fill="none" stroke="#C55A0B" stroke-width="2"/>
<rect x="1935.5" y="346.4" width="12.4" height="32.9" fill="#fff" stroke="#C55A0B" stroke-width="2.2"/>
<path d="M1941.7,374.7V383M1937.1,374.7h9.2M1937.1,383h9.2" fill="none" stroke="#C55A0B" stroke-width="2"/>
<g stroke="#000" stroke-width="3" fill="none">
<line x1="1813" y1="288.8" x2="1813" y2="517.2"/>
<line x1="1811.5" y1="515.7" x2="1965.5" y2="515.7"/>
<line x1="1804.6" y1="290.3" x2="1813" y2="290.3"/>
<line x1="1804.6" y1="346.4" x2="1813" y2="346.4"/>
<line x1="1804.6" y1="402.5" x2="1813" y2="402.5"/>
<line x1="1804.6" y1="459.1" x2="1813" y2="459.1"/>
<line x1="1804.6" y1="515.7" x2="1813" y2="515.7"/>
<line x1="1839.4" y1="515.7" x2="1839.4" y2="523.9"/>
<line x1="1870.5" y1="515.7" x2="1870.5" y2="523.9"/>
<line x1="1909.9" y1="515.7" x2="1909.9" y2="523.9"/>
<line x1="1941.4" y1="515.7" x2="1941.4" y2="523.9"/>
</g>
<g font-size="26.5">
<text x="1788.4" y="300.7" text-anchor="end">25</text>
<text x="1788.4" y="356.8" text-anchor="end">0</text>
<text x="1788.4" y="412.9" text-anchor="end">-25</text>
<text x="1788.4" y="469.5" text-anchor="end">-50</text>
<text x="1788.4" y="526.1" text-anchor="end">-75</text>
<text x="1852.4" y="546.7" text-anchor="end" transform="rotate(-45 1852.4 546.7)">BS</text>
<text x="1886" y="546.7" text-anchor="end" transform="rotate(-45 1886 546.7)">CS</text>
<text x="1922.9" y="546.7" text-anchor="end" transform="rotate(-45 1922.9 546.7)">BS</text>
<text x="1959.4" y="546.7" text-anchor="end" transform="rotate(-45 1959.4 546.7)">CS</text>
<text x="1696.5" y="401" text-anchor="middle" transform="rotate(-90 1696.5 401)">ΔEating</text>
<text x="1730" y="401" text-anchor="middle" transform="rotate(-90 1730 401)">(post - pre, %)</text>
</g>
<path d="M1838,293.3V283.8H1867.7V293.3" fill="none" stroke="#000" stroke-width="3"/>
<text x="1852.8" y="286" text-anchor="middle" font-size="26.5">*</text>
<path d="M1909,293.3V283.8H1945.6V293.3" fill="none" stroke="#000" stroke-width="3"/>
<text x="1927.3" y="286" text-anchor="middle" font-size="26.5">*</text>
</g>
<g id="panel-d">
<text x="0" y="672.5" font-size="34.7" font-weight="bold" stroke-width="0">d</text>
<text x="43.2" y="672.1" textLength="194" lengthAdjust="spacingAndGlyphs">AAV-EF1α-DIO-</text>
<text x="43.2" y="703.9" textLength="249.5" lengthAdjust="spacingAndGlyphs">ChR2-<tspan fill="#13853A" style="stroke:#13853A">EYFP</tspan> or AAV-</text>
<text x="43.2" y="735.7" textLength="200.6" lengthAdjust="spacingAndGlyphs">EF1α-DIO-<tspan fill="#13853A" style="stroke:#13853A">EYFP</tspan></text>
<text x="244.4" y="767.8" textLength="102" lengthAdjust="spacingAndGlyphs">Catheter</text>
<text x="288.4" y="813" textLength="82.4" lengthAdjust="spacingAndGlyphs">Optical</text>
<text x="307.8" y="845" textLength="51.7" lengthAdjust="spacingAndGlyphs">fibre</text>
<text x="154.5" y="905.2" textLength="33" lengthAdjust="spacingAndGlyphs">LH</text>
<text x="250.5" y="908" textLength="25" lengthAdjust="spacingAndGlyphs">NI</text>
<text x="200.6" y="954.3" textLength="36.5" lengthAdjust="spacingAndGlyphs">LM</text>
<text x="85.3" y="992.3" textLength="230.7" lengthAdjust="spacingAndGlyphs"><tspan font-style="italic">GAD2-ires-cre</tspan> mice</text>
<g fill="none" stroke="#000" stroke-width="2.1" stroke-linejoin="round">
<path d="M122.8,829C121.5,828.1 118.1,824.7 115,823.5C111.9,822.3 108.2,821.6 104.4,822C100.6,822.4 95.2,823.7 92,826C88.8,828.3 86.4,832.7 85.3,836C84.2,839.3 84.6,842.3 85.5,846C86.4,849.7 88,853.7 90.6,858.2C93.2,862.7 96.7,867.8 101,873C105.3,878.2 110.4,884 116.4,889.2C122.4,894.4 129.8,899.4 137,904C144.2,908.6 152.4,913.2 159.4,916.7C166.4,920.2 173.3,922.9 179,925C184.7,927.1 189.5,929 193.8,929.1C198.1,929.2 201.9,927.9 205,925.5C208.1,923.1 210.3,917.5 212.5,915C214.7,912.5 216,910.6 217.9,910.4C219.8,910.2 221.5,912 224,914C226.5,916 229.4,920.3 233,922.5C236.6,924.7 241.1,926.2 245.4,927C249.7,927.8 254.1,927.8 259,927.3C263.9,926.8 270,926.7 275,924C280,921.3 285.4,916 289,911C292.6,906 295,899.6 296.5,894C298,888.4 298.5,883.8 298.2,877.1C297.9,870.4 297,862 294.5,854C292,846 287.1,835 283.3,829C279.6,823 275.7,820.4 272,818C268.3,815.6 264.4,814.7 260.9,814.7C257.4,814.7 254.2,816.3 251,818C247.8,819.7 244.6,824.1 242,824.9C239.4,825.7 237.8,825 235.5,823C233.2,821 231.3,815.8 228.2,813C225.1,810.2 221.6,807.7 217,806C212.4,804.3 206.5,803 200.7,802.7C194.9,802.4 188.9,803.1 182,804C175.1,804.9 166.1,806.7 159.4,808.3C152.7,809.9 146.7,811.5 142,813.5C137.3,815.5 134.2,817.9 131,820.5C127.8,823.1 124.2,827.6 122.8,829"/>
<line x1="186.3" y1="811" x2="201.6" y2="901.5" stroke-width="1.8"/>
<rect x="212.7" y="771.4" width="5.4" height="133" fill="#fff" stroke-width="1.7"/>
<line x1="218.4" y1="792" x2="241.5" y2="766" stroke-width="1.8"/>
<rect x="242.7" y="786" width="3.2" height="72.6" fill="#777" stroke-width="1.6"/>
<line x1="246.4" y1="802.8" x2="281.3" y2="802.8" stroke-width="1.8"/>
</g>
<g transform="translate(176.2 740.8) rotate(-9.9) scale(1.0)" stroke="#000" stroke-width="1.8" fill="#fff">
<rect x="-6.6" y="0" width="13.2" height="3.6" fill="#bbb" stroke-width="1.5"/>
<rect x="-2.6" y="3.6" width="5.2" height="5" stroke-width="1.6"/>
<rect x="-6.4" y="8.6" width="12.8" height="57.4"/>
<rect x="-5.2" y="27" width="10.4" height="38" fill="#8FCB8B" stroke="none"/>
<line x1="-5.6" y1="34.5" x2="-1.6" y2="34.5" stroke-width="1.3"/>
<line x1="-5.6" y1="40.1" x2="-1.6" y2="40.1" stroke-width="1.3"/>
<line x1="-5.6" y1="45.7" x2="-1.6" y2="45.7" stroke-width="1.3"/>
<line x1="-5.6" y1="51.3" x2="-1.6" y2="51.3" stroke-width="1.3"/>
<line x1="-5.6" y1="56.9" x2="-1.6" y2="56.9" stroke-width="1.3"/>
<line x1="-5.6" y1="62.5" x2="-1.6" y2="62.5" stroke-width="1.3"/>
<rect x="-2" y="66" width="4" height="6" fill="#777" stroke-width="1.4"/>
</g>
<path d="M203.5,902.5 C212,889 224,883.5 236.8,881.2 M238,877 L236.8,881.2 L240.6,885" stroke-width="2" stroke="#6AB82E" fill="none" stroke-linecap="round"/>
<path d="M245,881.5 C245,893 235,899 224.6,902.2 M219.8,900 L224.6,902.2 L222.6,907.6" stroke-width="2" stroke="#E31B23" fill="none" stroke-linecap="round"/>
<polygon points="244.4,860 240,873.4 248.8,873.4" fill="#1E3FA0"/>
<circle cx="244.4" cy="878.8" r="3.4" fill="#E8193C"/>
<circle cx="201.8" cy="904.8" r="3.4" fill="#E2631C"/>
<circle cx="215.2" cy="906.6" r="3.3" fill="#29ABE2"/>
<text x="443.2" y="711.8" textLength="136.5" lengthAdjust="spacingAndGlyphs"><tspan fill="#008000" style="stroke:#008000">EYFP</tspan>/<tspan fill="#0000FF" style="stroke:#0000FF">DAPI</tspan></text>
<text x="28.6" y="1040.8" textLength="137.4" lengthAdjust="spacingAndGlyphs"><tspan fill="#008000" style="stroke:#008000">EYFP</tspan>/<tspan fill="#0000FF" style="stroke:#0000FF">DAPI</tspan></text>
<text x="442.5" y="1040.3" textLength="120.5" lengthAdjust="spacingAndGlyphs"><tspan fill="#FF0033" style="stroke:#FF0033">CTB</tspan>/<tspan fill="#0000FF" style="stroke:#0000FF">DAPI</tspan></text>
</g>
<g id="panel-e">
<text x="820" y="671.5" font-size="34.7" font-weight="bold" stroke-width="0">e</text>
<text x="1014.5" y="708.8" textLength="83.6" lengthAdjust="spacingAndGlyphs">Pretest</text>
<text x="1158.4" y="708.8" textLength="146" lengthAdjust="spacingAndGlyphs">Conditioning</text>
<text x="1382.5" y="708.8" textLength="105" lengthAdjust="spacingAndGlyphs">Post-test</text>
<text x="1329" y="754.1" textLength="104.5" lengthAdjust="spacingAndGlyphs">Saline or</text>
<text x="1329" y="786.1" fill="#1E90FF" style="stroke:#1E90FF" textLength="140.5" lengthAdjust="spacingAndGlyphs">R3(B1-22)R</text>
<g fill="none" stroke="#000" stroke-width="1.8" stroke-linejoin="round">
<polygon points="994.1,842.9 1012.1,811.3 1011.5,858.1 993.1,890.1" fill="#969191"/>
<polygon points="1095.3,842.9 1113.3,811.3 1112.3,858.1 1094.3,890.1" fill="#969191"/>
<polygon points="1012.1,811.3 1113.3,811.3 1112.3,858.1 1011.5,858.1"/>
<polygon points="994.1,842.9 1095.3,842.9 1094.3,890.1 993.1,890.1"/>
<line x1="994.1" y1="842.9" x2="1012.1" y2="811.3"/>
<line x1="1095.3" y1="842.9" x2="1113.3" y2="811.3"/>
<line x1="1094.3" y1="890.1" x2="1112.3" y2="858.1"/>
<line x1="993.1" y1="890.1" x2="1011.5" y2="858.1"/>
</g>
<g transform="translate(1016.2 825.2) scale(0.95)" fill="#fff" stroke="#000" stroke-width="1.4" stroke-linecap="round" stroke-linejoin="round">
<path d="M0,-3.9 H7 L11.6,-9 V9 L7,3.9 H0Z"/>
<ellipse cx="12.3" cy="0" rx="1.6" ry="9.2" stroke-width="1.2"/>
<path d="M16,-4.6 L21.6,-9.2 M16,0 H22.6 M16,4.6 L21.6,9.2" fill="none"/>
</g>
<g transform="translate(1021.3 869.2) rotate(28)"><rect x="-2.7" y="-7.75" width="5.4" height="15.5" rx="1.3" fill="#E6BE8A" stroke="#B98F58" stroke-width="0.8"/><ellipse cx="0" cy="-6.55" rx="2.3000000000000003" ry="1.2" fill="#EBCB9E" stroke="#B98F58" stroke-width="0.6"/></g>
<path d="M1089.3,803.5 C1060,805 1037,826 1035,858.5" stroke-width="2.2" stroke="#999" fill="none" stroke-linecap="round"/>
<path d="M1025.4,862.1C1025.5,861.5 1026.9,860.5 1027.5,860.1C1028.2,859.6 1029,859.4 1029.7,859.1C1030.5,858.9 1031.9,858.5 1032.6,858.5C1033.3,858.4 1034,859 1034.5,858.8C1035.1,858.7 1035.7,857.7 1036.2,857.7C1036.6,857.7 1036.9,858.5 1037.5,858.6C1038.1,858.6 1039.4,858.2 1040.3,858.1C1041.2,857.9 1042.6,857.7 1043.6,857.6C1044.6,857.5 1046,857.5 1047,857.6C1048,857.7 1049.3,858 1050.4,858.4C1051.4,858.7 1052.9,859.3 1053.8,859.9C1054.8,860.5 1055.9,861.6 1056.6,862.4C1057.3,863.2 1058,864.4 1058.5,865.3C1059.1,866.1 1059.6,867.4 1060.2,868.2C1060.7,869 1061.3,870 1062.1,870.7C1062.8,871.3 1063.9,872.2 1065,872.6C1066.2,873 1067.7,873.3 1069.6,873.4C1071.4,873.6 1074.8,873.7 1077.2,873.7C1079.7,873.8 1084.4,873.7 1085.7,873.9C1087,874.1 1087,874.7 1085.7,874.9C1084.4,875.1 1079.8,875 1077.2,875.1C1074.7,875.1 1070.6,875.2 1068.6,875.1C1066.6,875 1065,874.6 1063.8,874.3C1062.6,874 1061.3,873.2 1060.4,872.8C1059.6,872.4 1058.8,871.6 1058,871.6C1057.3,871.6 1056.1,872.6 1055.4,873C1054.6,873.3 1053.2,873.7 1052.8,874.1C1052.3,874.5 1052.7,875.2 1052.1,875.5C1051.5,875.7 1049.6,875.9 1048.9,875.8C1048.2,875.8 1047.2,875.3 1047.3,874.9C1047.4,874.5 1049.6,873.7 1049.6,873.3C1049.6,873 1048.2,872.9 1047.5,872.8C1046.7,872.7 1045.5,872.5 1044.6,872.6C1043.7,872.7 1042.3,873.2 1041.7,873.5C1041.1,873.9 1041.2,874.8 1040.6,875.1C1039.9,875.4 1038,875.6 1037.5,875.5C1036.9,875.3 1036.7,874.7 1036.9,874.3C1037.1,873.9 1038.6,873.4 1038.8,873C1039.1,872.5 1038.8,871.6 1038.5,871.4C1038.1,871.3 1037.5,871.7 1036.7,871.8C1036,871.9 1034.2,872.3 1033.6,872.3C1032.9,872.2 1032.3,871.7 1032.6,871.4C1032.9,871.1 1035.3,870.7 1035.5,870.3C1035.7,869.9 1034.7,869.2 1034,868.7C1033.4,868.2 1031.9,867.5 1031.2,867C1030.4,866.5 1029.5,866.1 1028.9,865.7C1028.2,865.2 1027.4,864.7 1026.8,864.1C1026.3,863.6 1025.3,862.7 1025.4,862.1Z" fill="#000"/>
<line x1="1120.1" y1="850.9" x2="1158.0" y2="850.9" stroke-width="2.7" stroke="#000"/>
<path d="M1168.2,850.9 L1151.2,843.6 L1155.96,850.9 L1151.2,858.1999999999999Z" fill="#000"/>
<g stroke="#000" stroke-width="1.3">
<line x1="1187.4" y1="890.9" x2="1204.6" y2="860.9"/>
<line x1="1197.7" y1="890.9" x2="1214.9" y2="860.9"/>
<line x1="1208" y1="890.9" x2="1225.2" y2="860.9"/>
<line x1="1218.3" y1="890.9" x2="1235.5" y2="860.9"/>
<line x1="1228.6" y1="890.9" x2="1245.8" y2="860.9"/>
<line x1="1238.9" y1="890.9" x2="1256.1" y2="860.9"/>
<line x1="1249.2" y1="890.9" x2="1266.4" y2="860.9"/>
</g>
<g fill="none" stroke="#000" stroke-width="1.2" stroke-linejoin="round">
<polygon points="1193.4,792.1 1276.2,792.1 1276.2,860.9 1193.4,860.9"/>
<polygon points="1176.2,822.1 1258.2,822.1 1258.2,890.9 1176.2,890.9"/>
<line x1="1176.2" y1="822.1" x2="1193.4" y2="792.1"/>
<line x1="1258.2" y1="822.1" x2="1276.2" y2="792.1"/>
<line x1="1258.2" y1="890.9" x2="1276.2" y2="860.9"/>
<line x1="1176.2" y1="890.9" x2="1193.4" y2="860.9"/>
</g>
<g transform="translate(1197.4 807.2) scale(0.95)" fill="#fff" stroke="#000" stroke-width="1.4" stroke-linecap="round" stroke-linejoin="round">
<path d="M0,-3.9 H7 L11.6,-9 V9 L7,3.9 H0Z"/>
<ellipse cx="12.3" cy="0" rx="1.6" ry="9.2" stroke-width="1.2"/>
<path d="M16,-4.6 L21.6,-9.2 M16,0 H22.6 M16,4.6 L21.6,9.2" fill="none"/>
</g>
<polygon points="1194.2,863.3 1206.5,873.7 1201.3,876.1 1206,887.5 1194.7,876.6 1199.7,873.7" fill="#FF0000"/>
<polygon points="1209.2,862 1221.5,872.4 1216.3,874.8 1221,886.2 1209.7,875.3 1214.7,872.4" fill="#FF0000"/>
<path d="M1217.3,831.9C1217.6,831.5 1218.5,831.4 1219.4,831.3C1220.3,831.2 1222.2,831.3 1223.2,831.5C1224.2,831.7 1225.4,832.6 1226.1,832.6C1226.8,832.7 1227.4,832 1228,831.9C1228.7,831.8 1230,831.8 1230.4,832.1C1230.9,832.3 1231.1,833.1 1231,833.6C1231,834.2 1230.1,834.8 1230.1,835.7C1230,836.6 1230,838.3 1230.4,839.5C1230.9,840.6 1232.1,842.1 1232.8,843.3C1233.5,844.5 1234.5,846.3 1235,847.6C1235.6,849 1235.9,851 1236.4,852.4C1236.9,853.9 1237.5,855.8 1238.1,857.2C1238.7,858.7 1239.9,860.7 1240.5,862C1241.1,863.4 1241.9,865.1 1242.2,866.3C1242.4,867.6 1242.6,869.2 1242.3,870.2C1242.1,871.2 1241.2,872.2 1240.5,873.1C1239.9,873.9 1238.8,875.2 1238.1,875.9C1237.5,876.7 1237,877.6 1236.2,878.1C1235.4,878.7 1233.9,879.6 1232.8,879.8C1231.8,880 1229.6,879.5 1229,879.3C1228.4,879.1 1228.1,878.4 1228.5,878.1C1229,877.9 1231.2,878.1 1231.9,877.8C1232.6,877.4 1233.4,876.2 1233.1,875.9C1232.8,875.7 1230.9,876.2 1230,876.2C1229.1,876.3 1227.6,876.6 1227.1,876.4C1226.6,876.2 1226.3,875.5 1226.6,875C1226.9,874.5 1228.5,873.9 1229.1,873.1C1229.7,872.3 1230.3,870.6 1230.4,869.7C1230.6,868.8 1230.4,868.2 1230.1,867.3C1229.7,866.4 1228.9,865.1 1228.3,863.9C1227.8,862.8 1226.7,860.9 1226.2,859.6C1225.8,858.3 1225.6,856.5 1225.3,855.3C1224.9,854.1 1224.3,852.7 1223.7,851.9C1223.1,851.2 1222.2,850.6 1221.3,850.3C1220.4,850 1218.2,850.3 1217.6,850.1C1216.9,849.9 1216.6,849.1 1217,848.8C1217.4,848.5 1219.4,848.5 1220.1,848C1220.7,847.5 1221.1,846.1 1221.4,845.2C1221.7,844.3 1222,842.8 1222,841.9C1222,840.9 1221.6,839.8 1221.2,839C1220.8,838.1 1219.9,836.9 1219.3,836.1C1218.7,835.3 1217.7,834.4 1217.4,833.8C1217.1,833.2 1217,832.3 1217.3,831.9Z" fill="#000"/>
<path d="M1241.5,869.2C1242,869.5 1243.6,870.7 1244.8,871.1C1246,871.6 1247.5,871.9 1248.7,871.9C1249.9,871.9 1251,871.1 1252,871.2C1253.1,871.4 1254,872.1 1254.9,872.8C1255.8,873.4 1256.4,874.6 1257.3,875.1C1258.3,875.6 1259.6,875.7 1260.7,875.8C1261.7,876 1263.1,875.8 1263.6,875.8" fill="none" stroke="#000" stroke-width="1.15" stroke-linecap="round"/>
<line x1="1281" y1="844.9" x2="1306.0" y2="844.9" stroke-width="2.7" stroke="#000"/>
<path d="M1316.2,844.9 L1299.2,837.6 L1303.96,844.9 L1299.2,852.1999999999999Z" fill="#000"/>
<line x1="1330.2" y1="844.9" x2="1355.2" y2="844.9" stroke-width="2.7" stroke="#000"/>
<path d="M1365.4,844.9 L1348.4,837.6 L1353.16,844.9 L1348.4,852.1999999999999Z" fill="#000"/>
<line x1="1323.1" y1="835" x2="1323.1" y2="858" stroke-width="1.5" stroke="#000"/>
<g transform="translate(1323.1 792.3) rotate(0) scale(0.585)" stroke="#000" stroke-width="1.8" fill="#fff">
<rect x="-6.6" y="0" width="13.2" height="3.6" fill="#bbb" stroke-width="1.5"/>
<rect x="-2.6" y="3.6" width="5.2" height="5" stroke-width="1.6"/>
<rect x="-6.4" y="8.6" width="12.8" height="57.4"/>
<rect x="-5.2" y="27" width="10.4" height="38" fill="#7f7f7f" stroke="none"/>
<line x1="-5.6" y1="34.5" x2="-1.6" y2="34.5" stroke-width="1.3"/>
<line x1="-5.6" y1="40.1" x2="-1.6" y2="40.1" stroke-width="1.3"/>
<line x1="-5.6" y1="45.7" x2="-1.6" y2="45.7" stroke-width="1.3"/>
<line x1="-5.6" y1="51.3" x2="-1.6" y2="51.3" stroke-width="1.3"/>
<line x1="-5.6" y1="56.9" x2="-1.6" y2="56.9" stroke-width="1.3"/>
<line x1="-5.6" y1="62.5" x2="-1.6" y2="62.5" stroke-width="1.3"/>
<rect x="-2" y="66" width="4" height="6" fill="#777" stroke-width="1.4"/>
</g>
<path d="M1315.5,859.3C1315.7,858.8 1316.7,858.3 1317.3,858C1317.9,857.7 1318.8,857 1319.7,857C1320.6,857 1322.1,857.7 1323,857.8C1323.9,857.9 1325.2,857.3 1326,857.4C1326.8,857.5 1327.6,857.8 1328.1,858.2C1328.6,858.7 1329.1,859.6 1329.5,860.4C1329.9,861.1 1329.8,862.7 1330.5,863.2C1331.2,863.7 1333,863.6 1334,863.8C1335,864 1336.5,864.2 1337.5,864.8C1338.5,865.4 1340,866.5 1341,867.6C1342,868.7 1343.2,870.8 1344,872.1C1344.8,873.5 1345.8,875.5 1346.5,876.6C1347.2,877.7 1347.5,879.1 1348.5,879.6C1349.5,880.1 1351.7,879.9 1353,880.2C1354.3,880.5 1356.2,880.9 1357.5,881.6C1358.8,882.3 1360.6,883.6 1361.5,884.6C1362.4,885.6 1363.3,887.7 1363.5,888.6C1363.7,889.5 1362.9,890.7 1362.5,890.6C1362.1,890.5 1361.7,888.7 1361,887.8C1360.3,886.9 1359,885.4 1358,884.6C1357,883.8 1355.3,883 1354,882.6C1352.7,882.2 1350.8,882.1 1349.5,882.2C1348.2,882.3 1346.7,882.8 1345.5,883.2C1344.3,883.6 1342.6,884.3 1341.5,884.6C1340.4,884.9 1338.8,885.2 1338,885C1337.2,884.8 1337.2,883.7 1336.5,883.4C1335.8,883.1 1334.2,883.3 1333.5,883C1332.8,882.7 1332.8,881.8 1332,881.6C1331.2,881.4 1329.4,881.5 1328.5,881.6C1327.6,881.8 1326.6,882.2 1326,882.6C1325.4,883 1325.3,884 1324.5,884.2C1323.7,884.4 1321.3,884.2 1320.5,884C1319.7,883.8 1319.5,882.9 1319,882.6C1318.5,882.3 1317.2,882.5 1317,882.2C1316.8,881.9 1317.4,880.9 1318,880.6C1318.6,880.3 1320.4,880.6 1321,880C1321.6,879.4 1322,877.8 1322.1,876.6C1322.2,875.4 1322.1,873.5 1321.9,872.1C1321.7,870.8 1321.2,868.9 1320.7,867.6C1320.2,866.3 1319,864.6 1318.3,863.6C1317.6,862.6 1316.7,861.8 1316.3,861.2C1315.9,860.6 1315.3,859.8 1315.5,859.3Z" fill="#000"/>
<g fill="none" stroke="#000" stroke-width="1.8" stroke-linejoin="round">
<polygon points="1371.6,841.5 1390.3,810.3 1389.5,857.7 1371,888.9" fill="#969191"/>
<polygon points="1473.4,841.1 1491.7,809.9 1490.9,857.7 1472.6,888.8" fill="#969191"/>
<polygon points="1390.3,810.3 1491.7,809.9 1490.9,857.7 1389.5,857.7"/>
<polygon points="1371.6,841.5 1473.4,841.1 1472.6,888.8 1371,888.9"/>
<line x1="1371.6" y1="841.5" x2="1390.3" y2="810.3"/>
<line x1="1473.4" y1="841.1" x2="1491.7" y2="809.9"/>
<line x1="1472.6" y1="888.8" x2="1490.9" y2="857.7"/>
<line x1="1371" y1="888.9" x2="1389.5" y2="857.7"/>
</g>
<g transform="translate(1394.6 823.8) scale(0.95)" fill="#fff" stroke="#000" stroke-width="1.4" stroke-linecap="round" stroke-linejoin="round">
<path d="M0,-3.9 H7 L11.6,-9 V9 L7,3.9 H0Z"/>
<ellipse cx="12.3" cy="0" rx="1.6" ry="9.2" stroke-width="1.2"/>
<path d="M16,-4.6 L21.6,-9.2 M16,0 H22.6 M16,4.6 L21.6,9.2" fill="none"/>
</g>
<g transform="translate(1398.5 867.3) rotate(28)"><rect x="-2.7" y="-7.75" width="5.4" height="15.5" rx="1.3" fill="#E6BE8A" stroke="#B98F58" stroke-width="0.8"/><ellipse cx="0" cy="-6.55" rx="2.3000000000000003" ry="1.2" fill="#EBCB9E" stroke="#B98F58" stroke-width="0.6"/></g>
<path d="M1477.7,798.9 C1440,801 1411,826 1409,863.5" stroke-width="2.4" stroke="#1010F0" fill="none" stroke-linecap="round"/>
<path d="M1402.5,866.7C1402.6,866.1 1403.9,865.2 1404.5,864.7C1405.2,864.3 1405.9,864 1406.7,863.8C1407.4,863.6 1408.8,863.2 1409.5,863.1C1410.2,863.1 1410.8,863.6 1411.3,863.5C1411.9,863.4 1412.5,862.4 1412.9,862.4C1413.3,862.4 1413.6,863.2 1414.2,863.2C1414.8,863.3 1416,862.9 1416.9,862.8C1417.8,862.6 1419.2,862.4 1420.2,862.3C1421.1,862.2 1422.4,862.2 1423.4,862.3C1424.4,862.4 1425.7,862.7 1426.7,863C1427.7,863.4 1429.1,863.9 1430,864.5C1430.9,865.1 1432,866.2 1432.7,866.9C1433.4,867.7 1434.1,868.9 1434.6,869.7C1435.1,870.6 1435.6,871.7 1436.2,872.5C1436.7,873.3 1437.3,874.3 1438,874.9C1438.7,875.6 1439.8,876.4 1440.9,876.8C1442,877.2 1443.5,877.5 1445.3,877.6C1447.1,877.8 1450.4,877.9 1452.7,877.9C1455.1,878 1459.7,877.9 1460.9,878.1C1462.1,878.3 1462.1,878.9 1460.9,879C1459.7,879.2 1455.2,879.2 1452.7,879.2C1450.2,879.3 1446.3,879.3 1444.3,879.2C1442.4,879.1 1440.9,878.8 1439.7,878.5C1438.5,878.1 1437.3,877.4 1436.4,877C1435.6,876.6 1434.9,875.9 1434.1,875.9C1433.4,875.9 1432.3,876.8 1431.5,877.2C1430.7,877.5 1429.5,877.9 1429,878.3C1428.5,878.7 1428.9,879.3 1428.4,879.6C1427.8,879.8 1426,880.1 1425.3,880C1424.6,879.9 1423.6,879.4 1423.7,879C1423.8,878.7 1425.9,877.9 1425.9,877.6C1426,877.2 1424.6,877.1 1423.9,877C1423.2,876.9 1421.9,876.7 1421.1,876.8C1420.3,876.9 1418.9,877.4 1418.3,877.7C1417.7,878.1 1417.8,878.9 1417.2,879.2C1416.6,879.5 1414.7,879.7 1414.2,879.6C1413.7,879.5 1413.5,878.8 1413.7,878.5C1413.9,878.1 1415.3,877.6 1415.5,877.2C1415.7,876.8 1415.5,875.9 1415.1,875.7C1414.8,875.5 1414.2,875.9 1413.5,876.1C1412.8,876.2 1411,876.6 1410.4,876.5C1409.8,876.5 1409.2,876 1409.5,875.7C1409.8,875.4 1412.1,875 1412.3,874.6C1412.5,874.2 1411.5,873.6 1410.9,873.1C1410.2,872.6 1408.8,871.9 1408.1,871.4C1407.3,871 1406.5,870.5 1405.8,870.1C1405.2,869.7 1404.4,869.1 1403.9,868.6C1403.4,868.1 1402.4,867.3 1402.5,866.7Z" fill="#000"/>
<text x="982.5" y="922.9" textLength="35" lengthAdjust="spacingAndGlyphs">CS</text>
<path d="M997.3,932.1H1024.9V910.3H1034.9V932.1H1044.9V910.3H1054.9V932.1H1064.1V910.3H1074.1V932.1H1083.3V910.3H1092.9V932.1" stroke-width="2" stroke="#000" fill="none" stroke-linejoin="miter"/>
<text x="1158.6" y="922.9" textLength="35" lengthAdjust="spacingAndGlyphs">CS</text>
<path d="M1171.4,932.1H1199V910.3H1205V932.1H1223.4V910.3H1228.2V932.1H1254.2V910.3H1259.4V932.1H1267.4" stroke-width="2" stroke="#000" fill="none" stroke-linejoin="miter"/>
<text x="1158.6" y="976.2" textLength="35" lengthAdjust="spacingAndGlyphs">US</text>
<line x1="1171.4" y1="987" x2="1267.4" y2="987" stroke-width="2" stroke="#000"/>
<line x1="1204.2" y1="965.4" x2="1204.2" y2="986.3" stroke-width="2" stroke="#E6193C"/>
<line x1="1227" y1="965.4" x2="1227" y2="986.3" stroke-width="2" stroke="#E6193C"/>
<line x1="1258.2" y1="965.4" x2="1258.2" y2="986.3" stroke-width="2" stroke="#E6193C"/>
<text x="1351.8" y="922.5" textLength="35" lengthAdjust="spacingAndGlyphs">CS</text>
<path d="M1374.3,930.3H1402.3V909H1412.3V930.3H1422.3V909H1432.3V930.3H1442.3V909H1451.5V930.3H1461.5V909H1471.1V930.3" stroke-width="2" stroke="#000" fill="none" stroke-linejoin="miter"/>
<text x="1351.5" y="965.6" fill="#1A1AE6" style="stroke:#1A1AE6" textLength="182" lengthAdjust="spacingAndGlyphs">20 Hz blue light</text>
<rect x="1404.3" y="972" width="8.8" height="13.6" fill="#0A3CFF"/>
<rect x="1423.1" y="972" width="10.0" height="13.6" fill="#0A3CFF"/>
<rect x="1442.3" y="972" width="9.2" height="13.6" fill="#0A3CFF"/>
<rect x="1461.5" y="972" width="9.6" height="13.6" fill="#0A3CFF"/>
<line x1="1374.3" y1="986.4" x2="1471.3" y2="986.4" stroke-width="2" stroke="#000"/>
<g fill="none" stroke="#FF9C9C" stroke-width="1.2" stroke-linejoin="round">
<polyline points="977.6,1253.4 1014.9,1250.5 1052.4,1253.7 1090.2,1251.1 1127.8,1248"/>
<polyline points="977.6,1251.3 1014.9,1246.6 1052.4,1252.9 1090.2,1251.3 1127.8,1248.4"/>
<polyline points="977.6,1254 1014.9,1252 1052.4,1244.4 1090.2,1241.8 1127.8,1245.3"/>
<polyline points="977.6,1253.2 1014.9,1248.2 1052.4,1247.1 1090.2,1241.7 1127.8,1248.4"/>
<polyline points="977.6,1251 1014.9,1249.1 1052.4,1249 1090.2,1250.6 1127.8,1244.1"/>
<polyline points="977.6,1253.6 1014.9,1244.6 1052.4,1249.5 1090.2,1244.1 1127.8,1242.1"/>
<polyline points="977.6,1253.5 1014.9,1244.3 1052.4,1250.3 1090.2,1251.9 1127.8,1249.5"/>
</g>
<g fill="none" stroke="#8DBBFF" stroke-width="1.2" stroke-linejoin="round">
<polyline points="977.6,1252.3 1014.9,1247.9 1052.4,1247.3 1090.2,1246.4 1127.8,1250.5"/>
<polyline points="977.6,1251.3 1014.9,1245.6 1052.4,1238 1090.2,1243 1127.8,1252.5"/>
<polyline points="977.6,1251.4 1014.9,1254.1 1052.4,1251.5 1090.2,1245 1127.8,1245.1"/>
<polyline points="977.6,1251.2 1014.9,1245.5 1052.4,1239.6 1090.2,1245.2 1127.8,1251"/>
<polyline points="977.6,1252.7 1014.9,1252.2 1052.4,1247.1 1090.2,1244.3 1127.8,1248.5"/>
<polyline points="977.6,1253.9 1014.9,1242.9 1052.4,1244.8 1090.2,1243.6 1127.8,1248.5"/>
<polyline points="977.6,1252.3 1014.9,1254.4 1052.4,1250.4 1090.2,1247.4 1127.8,1242.9"/>
</g>
<g fill="none" stroke="#999999" stroke-width="1.2" stroke-linejoin="round">
<polyline points="977.6,1252.1 1014.9,1250.2 1052.4,1250.1 1090.2,1246.5 1127.8,1245"/>
<polyline points="977.6,1250.8 1014.9,1251.5 1052.4,1243.8 1090.2,1249 1127.8,1246.6"/>
<polyline points="977.6,1253.7 1014.9,1245.6 1052.4,1254.4 1090.2,1252.7 1127.8,1244"/>
<polyline points="977.6,1251.7 1014.9,1240.1 1052.4,1254.4 1090.2,1254.4 1127.8,1241.6"/>
<polyline points="977.6,1250.7 1014.9,1254.4 1052.4,1252.9 1090.2,1252.3 1127.8,1248.1"/>
<polyline points="977.6,1253.1 1014.9,1246.6 1052.4,1250 1090.2,1241.7 1127.8,1245.2"/>
<polyline points="977.6,1251.4 1014.9,1254.4 1052.4,1247.5 1090.2,1245.4 1127.8,1247.3"/>
<polyline points="977.6,1253 1014.9,1250.5 1052.4,1247.1 1090.2,1245 1127.8,1246.8"/>
</g>
<g fill="none" stroke="#FF9C9C" stroke-width="1.2" stroke-linejoin="round">
<polyline points="1181,1252.3 1218.3,1244.7 1256,1115.9 1293.1,1099.7"/>
<polyline points="1181,1253.3 1218.3,1252.3 1256,1176 1293.1,1053.9"/>
<polyline points="1181,1253.3 1218.3,1253.3 1256,1200.8 1293.1,1080.6"/>
<polyline points="1181,1253.3 1218.3,1253.3 1256,1219.9 1293.1,1086.3"/>
<polyline points="1181,1253.8 1218.3,1253.8 1256,1239 1293.1,1101.6"/>
<polyline points="1181,1253.8 1218.3,1253.8 1256,1235.1 1293.1,1128.3"/>
<polyline points="1181,1253.8 1218.3,1253.8 1256,1248.5 1293.1,1215.1"/>
<polyline points="1181,1253.8 1218.3,1253.8 1256,1249.5 1293.1,1225.6"/>
<polyline points="1181,1253.8 1218.3,1253.8 1256,1244.7 1293.1,1239"/>
<polyline points="1181,1253.8 1218.3,1252.3 1256,1176 1293.1,1176"/>
<polyline points="1181,1253.8 1218.3,1253.8 1256,1229.4 1293.1,1067.2"/>
</g>
<g fill="none" stroke="#8DBBFF" stroke-width="1.2" stroke-linejoin="round">
<polyline points="1181,1253.3 1218.3,1253.3 1256,1150.2 1293.1,1162.6"/>
<polyline points="1181,1253.8 1218.3,1253.8 1256,1210.3 1293.1,1069.1"/>
<polyline points="1181,1253.8 1218.3,1253.8 1256,1229.4 1293.1,1094"/>
<polyline points="1181,1253.8 1218.3,1253.8 1256,1239 1293.1,1114.9"/>
<polyline points="1181,1253.8 1218.3,1253.8 1256,1252.3 1293.1,1155"/>
<polyline points="1181,1253.8 1218.3,1253.8 1256,1250.4 1293.1,1181.7"/>
<polyline points="1181,1253.8 1218.3,1253.8 1256,1219.9 1293.1,1134"/>
</g>
<g fill="none" stroke="#999999" stroke-width="1.2" stroke-linejoin="round">
<polyline points="1181,1227.5 1218.3,1252.3 1256,1156.9 1293.1,1142.6"/>
<polyline points="1181,1243.7 1218.3,1250.4 1256,1176 1293.1,1200.8"/>
<polyline points="1181,1248.5 1218.3,1253.3 1256,1202.7 1293.1,1122.6"/>
<polyline points="1181,1251.4 1218.3,1253.8 1256,1219.9 1293.1,1143.6"/>
<polyline points="1181,1253.8 1218.3,1253.8 1256,1227.5 1293.1,1226.6"/>
<polyline points="1181,1253.8 1218.3,1253.8 1256,1239 1293.1,1191.3"/>
<polyline points="1181,1253.8 1218.3,1253.8 1256,1242.8 1293.1,1200.8"/>
<polyline points="1181,1253.8 1218.3,1253.8 1256,1246.6 1293.1,1204.6"/>
<polyline points="1181,1253.8 1218.3,1253.8 1256,1248.5 1293.1,1208.4"/>
<polyline points="1181,1253.8 1218.3,1253.8 1256,1235.1 1293.1,1197"/>
<polyline points="1181,1253.8 1218.3,1253.8 1256,1244.7 1293.1,1239"/>
<polyline points="1181,1253.8 1218.3,1253.8 1256,1231.3 1293.1,1185.5"/>
</g>
<g fill="none" stroke="#FF9C9C" stroke-width="1.2" stroke-linejoin="round">
<polyline points="1346,1251 1383.8,1230.3 1421.1,1241.7 1458.9,1250.3 1496.7,1248.4"/>
<polyline points="1346,1251 1383.8,1237 1421.1,1252.2 1458.9,1246.5 1496.7,1253.2"/>
<polyline points="1346,1251 1383.8,1248.4 1421.1,1253.2 1458.9,1252.2 1496.7,1253.8"/>
<polyline points="1346,1251 1383.8,1252.2 1421.1,1253.8 1458.9,1253.8 1496.7,1254.1"/>
</g>
<g fill="none" stroke="#8DBBFF" stroke-width="1.2" stroke-linejoin="round">
<polyline points="1346,1251 1383.8,1161.6 1421.1,1147.3 1458.9,1153 1496.7,1120.6"/>
<polyline points="1346,1251 1383.8,1167.4 1421.1,1202.6 1458.9,1162.6 1496.7,1118.7"/>
<polyline points="1346,1251 1383.8,1177.8 1421.1,1191.2 1458.9,1196 1496.7,1181.7"/>
<polyline points="1346,1251 1383.8,1194.1 1421.1,1217.9 1458.9,1219.8 1496.7,1181.7"/>
<polyline points="1346,1251 1383.8,1202.6 1421.1,1216 1458.9,1223.6 1496.7,1208.4"/>
<polyline points="1346,1251 1383.8,1221.7 1421.1,1225.5 1458.9,1227.4 1496.7,1206.5"/>
<polyline points="1346,1251 1383.8,1223.6 1421.1,1231.2 1458.9,1235.1 1496.7,1240.8"/>
<polyline points="1346,1251 1383.8,1225.5 1421.1,1233.2 1458.9,1238.9 1496.7,1242.7"/>
<polyline points="1346,1251 1383.8,1235.1 1421.1,1238.9 1458.9,1242.7 1496.7,1245.6"/>
<polyline points="1346,1251 1383.8,1240.8 1421.1,1240.8 1458.9,1243.6 1496.7,1246.5"/>
<polyline points="1346,1251 1383.8,1242.7 1421.1,1244.6 1458.9,1246.5 1496.7,1248.4"/>
<polyline points="1346,1251 1383.8,1227.4 1421.1,1227.4 1458.9,1233.2 1496.7,1231.2"/>
</g>
<g fill="none" stroke="#999999" stroke-width="1.2" stroke-linejoin="round">
<polyline points="1346,1251 1383.8,1036.7 1421.1,1045.3 1458.9,1057.7 1496.7,1095.8"/>
<polyline points="1346,1251 1383.8,1057.7 1421.1,1038.6 1458.9,1126.3 1496.7,1113"/>
<polyline points="1346,1251 1383.8,1071 1421.1,1105.4 1458.9,1147.3 1496.7,1042.4"/>
<polyline points="1346,1251 1383.8,1078.7 1421.1,1132.1 1458.9,1105.4 1496.7,1103.5"/>
<polyline points="1346,1251 1383.8,1082.5 1421.1,1116.8 1458.9,1170.2 1496.7,1206.5"/>
<polyline points="1346,1251 1383.8,1115.9 1421.1,1124.4 1458.9,1162.6 1496.7,1172.1"/>
<polyline points="1346,1251 1383.8,1134 1421.1,1135.9 1458.9,1181.7 1496.7,1208.4"/>
<polyline points="1346,1251 1383.8,1137.8 1421.1,1149.2 1458.9,1147.3 1496.7,1210.3"/>
<polyline points="1346,1251 1383.8,1143.5 1421.1,1187.4 1458.9,1160.7 1496.7,1212.2"/>
<polyline points="1346,1251 1383.8,1204.5 1421.1,1177.8 1458.9,1210.3 1496.7,1200.7"/>
<polyline points="1346,1251 1383.8,1216 1421.1,1210.3 1458.9,1227.4 1496.7,1200.7"/>
<polyline points="1346,1251 1383.8,1206.5 1421.1,1233.2 1458.9,1238.9 1496.7,1212.2"/>
<polyline points="1346,1251 1383.8,1212.2 1421.1,1219.8 1458.9,1229.3 1496.7,1232.2"/>
<polyline points="1346,1251 1383.8,1086.3 1421.1,1143.5 1458.9,1219.8 1496.7,1238.9"/>
<polyline points="1346,1251 1383.8,1072.9 1421.1,1122.5 1458.9,1191.2 1496.7,1219.8"/>
</g>
<g stroke="#000" stroke-width="3" fill="none" stroke-linecap="butt">
<line x1="959.9" y1="1028.3" x2="959.9" y2="1256.3"/>
<line x1="951.3" y1="1255.1" x2="959.9" y2="1255.1"/>
<line x1="951.3" y1="1198.7" x2="959.9" y2="1198.7"/>
<line x1="951.3" y1="1142.3" x2="959.9" y2="1142.3"/>
<line x1="951.3" y1="1085.9" x2="959.9" y2="1085.9"/>
<line x1="951.3" y1="1029.5" x2="959.9" y2="1029.5"/>
<line x1="958.7" y1="1255.1" x2="1150.3" y2="1255.1"/>
<line x1="1149.4" y1="1263.6" x2="1154.2" y2="1246.6" stroke-width="3"/>
<line x1="1160.1" y1="1263.6" x2="1164.9" y2="1246.6" stroke-width="3"/>
<line x1="1164" y1="1255.1" x2="1316.8" y2="1255.1"/>
<line x1="1315.9" y1="1263.6" x2="1320.7" y2="1246.6" stroke-width="3"/>
<line x1="1326.5" y1="1263.6" x2="1331.3" y2="1246.6" stroke-width="3"/>
<line x1="1330.4" y1="1255.1" x2="1517.4" y2="1255.1"/>
<line x1="977.6" y1="1255.1" x2="977.6" y2="1262.7"/>
<line x1="1014.9" y1="1255.1" x2="1014.9" y2="1262.7"/>
<line x1="1052.4" y1="1255.1" x2="1052.4" y2="1262.7"/>
<line x1="1090.2" y1="1255.1" x2="1090.2" y2="1262.7"/>
<line x1="1127.8" y1="1255.1" x2="1127.8" y2="1262.7"/>
<line x1="1181" y1="1255.1" x2="1181" y2="1262.7"/>
<line x1="1218.3" y1="1255.1" x2="1218.3" y2="1262.7"/>
<line x1="1256" y1="1255.1" x2="1256" y2="1262.7"/>
<line x1="1293.1" y1="1255.1" x2="1293.1" y2="1262.7"/>
<line x1="1346" y1="1255.1" x2="1346" y2="1262.7"/>
<line x1="1383.8" y1="1255.1" x2="1383.8" y2="1262.7"/>
<line x1="1421.1" y1="1255.1" x2="1421.1" y2="1262.7"/>
<line x1="1458.9" y1="1255.1" x2="1458.9" y2="1262.7"/>
<line x1="1496.7" y1="1255.1" x2="1496.7" y2="1262.7"/>
</g>
<g font-size="26.5">
<text x="935.5" y="1264.2" text-anchor="end">0</text>
<text x="935.5" y="1207.8" text-anchor="end">25</text>
<text x="935.5" y="1151.4" text-anchor="end">50</text>
<text x="935.5" y="1095" text-anchor="end">75</text>
<text x="935.5" y="1038.6" text-anchor="end">100</text>
<text x="980.2" y="1297.6" text-anchor="middle">BS</text>
<text x="1015.8" y="1297.6" text-anchor="middle">1</text>
<text x="1053.3" y="1297.6" text-anchor="middle">2</text>
<text x="1091.1" y="1297.6" text-anchor="middle">3</text>
<text x="1128.7" y="1297.6" text-anchor="middle">4</text>
<text x="1183.6" y="1297.6" text-anchor="middle">BS</text>
<text x="1219.2" y="1297.6" text-anchor="middle">1</text>
<text x="1256.9" y="1297.6" text-anchor="middle">2</text>
<text x="1294" y="1297.6" text-anchor="middle">3</text>
<text x="1348.6" y="1297.6" text-anchor="middle">BS</text>
<text x="1384.7" y="1297.6" text-anchor="middle">1</text>
<text x="1422" y="1297.6" text-anchor="middle">2</text>
<text x="1459.8" y="1297.6" text-anchor="middle">3</text>
<text x="1497.6" y="1297.6" text-anchor="middle">4</text>
<text x="1195.4" y="1336">Trial no.</text>
<text x="864.5" y="1133.3" text-anchor="middle" transform="rotate(-90 864.5 1133.3)">Freezing (%)</text>
</g>
<g stroke="#0A84FF" fill="#0A84FF">
<polyline points="977.6,1250.8 1014.9,1247.5 1052.4,1249 1090.2,1248.5 1127.8,1248.2" fill="none" stroke-width="2.3" stroke-linejoin="round"/>
<circle cx="977.6" cy="1250.8" r="4.2" stroke="none"/>
<circle cx="1014.9" cy="1247.5" r="4.2" stroke="none"/>
<circle cx="1052.4" cy="1249" r="4.2" stroke="none"/>
<circle cx="1090.2" cy="1248.5" r="4.2" stroke="none"/>
<circle cx="1127.8" cy="1248.2" r="4.2" stroke="none"/>
</g>
<g stroke="#FF0000" fill="#FF0000">
<polyline points="977.6,1250.8 1014.9,1248 1052.4,1246 1090.2,1249 1127.8,1248" fill="none" stroke-width="2.3" stroke-linejoin="round"/>
<circle cx="977.6" cy="1250.8" r="4.2" stroke="none"/>
<circle cx="1014.9" cy="1248" r="4.2" stroke="none"/>
<circle cx="1052.4" cy="1246" r="4.2" stroke="none"/>
<circle cx="1090.2" cy="1249" r="4.2" stroke="none"/>
<circle cx="1127.8" cy="1248" r="4.2" stroke="none"/>
</g>
<g stroke="#333333" fill="#333333">
<polyline points="977.6,1250.8 1014.9,1245.3 1052.4,1248.3 1090.2,1247.5 1127.8,1247.5" fill="none" stroke-width="2.3" stroke-linejoin="round"/>
<circle cx="977.6" cy="1250.8" r="4.2" stroke="none"/>
<circle cx="1014.9" cy="1245.3" r="4.2" stroke="none"/>
<circle cx="1052.4" cy="1248.3" r="4.2" stroke="none"/>
<circle cx="1090.2" cy="1247.5" r="4.2" stroke="none"/>
<circle cx="1127.8" cy="1247.5" r="4.2" stroke="none"/>
</g>
<g stroke="#0A84FF" fill="#0A84FF">
<path d="M1256,1214V1242M1251.8,1214h8.4M1251.8,1242h8.4" stroke-width="2.0" fill="none"/>
<path d="M1293.1,1146.3V1176.3M1288.9,1146.3h8.4M1288.9,1176.3h8.4" stroke-width="2.0" fill="none"/>
<polyline points="1181,1253 1218.3,1254.4 1256,1228 1293.1,1161.3" fill="none" stroke-width="2.3" stroke-linejoin="round"/>
<circle cx="1181" cy="1253" r="4.2" stroke="none"/>
<circle cx="1218.3" cy="1254.4" r="4.2" stroke="none"/>
<circle cx="1256" cy="1228" r="4.2" stroke="none"/>
<circle cx="1293.1" cy="1161.3" r="4.2" stroke="none"/>
</g>
<g stroke="#FF0000" fill="#FF0000">
<path d="M1256,1209V1241M1251.8,1209h8.4M1251.8,1241h8.4" stroke-width="2.0" fill="none"/>
<path d="M1293.1,1129.7V1171.3M1288.9,1129.7h8.4M1288.9,1171.3h8.4" stroke-width="2.0" fill="none"/>
<polyline points="1181,1254.6 1218.3,1254.2 1256,1225 1293.1,1150.5" fill="none" stroke-width="2.3" stroke-linejoin="round"/>
<circle cx="1181" cy="1254.6" r="4.2" stroke="none"/>
<circle cx="1218.3" cy="1254.2" r="4.2" stroke="none"/>
<circle cx="1256" cy="1225" r="4.2" stroke="none"/>
<circle cx="1293.1" cy="1150.5" r="4.2" stroke="none"/>
</g>
<g stroke="#333333" fill="#333333">
<path d="M1256,1216.3V1232.3M1251.8,1216.3h8.4M1251.8,1232.3h8.4" stroke-width="2.0" fill="none"/>
<path d="M1293.1,1172.7V1192.7M1288.9,1172.7h8.4M1288.9,1192.7h8.4" stroke-width="2.0" fill="none"/>
<polyline points="1181,1250.8 1218.3,1254.1 1256,1224.3 1293.1,1182.7" fill="none" stroke-width="2.3" stroke-linejoin="round"/>
<circle cx="1181" cy="1250.8" r="4.2" stroke="none"/>
<circle cx="1218.3" cy="1254.1" r="4.2" stroke="none"/>
<circle cx="1256" cy="1224.3" r="4.2" stroke="none"/>
<circle cx="1293.1" cy="1182.7" r="4.2" stroke="none"/>
</g>
<g stroke="#333333" fill="#333333">
<path d="M1383.8,1104.2V1137.8M1379.6,1104.2h8.4M1379.6,1137.8h8.4" stroke-width="2.0" fill="none"/>
<path d="M1421.1,1123.6V1155.2M1416.9,1123.6h8.4M1416.9,1155.2h8.4" stroke-width="2.0" fill="none"/>
<path d="M1458.9,1153.9V1184.9M1454.7,1153.9h8.4M1454.7,1184.9h8.4" stroke-width="2.0" fill="none"/>
<path d="M1496.7,1154.6V1189.6M1492.5,1154.6h8.4M1492.5,1189.6h8.4" stroke-width="2.0" fill="none"/>
<polyline points="1383.8,1121 1421.1,1139.4 1458.9,1169.4 1496.7,1172.1" fill="none" stroke-width="2.3" stroke-linejoin="round"/>
<circle cx="1383.8" cy="1121" r="4.2" stroke="none"/>
<circle cx="1421.1" cy="1139.4" r="4.2" stroke="none"/>
<circle cx="1458.9" cy="1169.4" r="4.2" stroke="none"/>
<circle cx="1496.7" cy="1172.1" r="4.2" stroke="none"/>
</g>
<g stroke="#0A84FF" fill="#0A84FF">
<path d="M1383.8,1202V1218.8M1379.6,1202h8.4M1379.6,1218.8h8.4" stroke-width="2.0" fill="none"/>
<path d="M1421.1,1209.5V1225.5M1416.9,1209.5h8.4M1416.9,1225.5h8.4" stroke-width="2.0" fill="none"/>
<path d="M1458.9,1209V1228M1454.7,1209h8.4M1454.7,1228h8.4" stroke-width="2.0" fill="none"/>
<path d="M1496.7,1195.6V1222.8M1492.5,1195.6h8.4M1492.5,1222.8h8.4" stroke-width="2.0" fill="none"/>
<polyline points="1383.8,1210.4 1421.1,1217.5 1458.9,1218.5 1496.7,1209.2" fill="none" stroke-width="2.3" stroke-linejoin="round"/>
<circle cx="1383.8" cy="1210.4" r="4.2" stroke="none"/>
<circle cx="1421.1" cy="1217.5" r="4.2" stroke="none"/>
<circle cx="1458.9" cy="1218.5" r="4.2" stroke="none"/>
<circle cx="1496.7" cy="1209.2" r="4.2" stroke="none"/>
</g>
<g stroke="#FF0000" fill="#FF0000">
<polyline points="1383.8,1250.8 1421.1,1253.3 1458.9,1253.8 1496.7,1254" fill="none" stroke-width="2.3" stroke-linejoin="round"/>
<circle cx="1383.8" cy="1250.8" r="4.2" stroke="none"/>
<circle cx="1421.1" cy="1253.3" r="4.2" stroke="none"/>
<circle cx="1458.9" cy="1253.8" r="4.2" stroke="none"/>
<circle cx="1496.7" cy="1254" r="4.2" stroke="none"/>
</g>
<circle cx="1346" cy="1250.8" r="4.1" fill="#333333"/>
<path d="M1523,1172.1H1532.5V1206.7H1523" fill="none" stroke="#000" stroke-width="3"/>
<path d="M1523,1212.6H1532.5V1252H1523" fill="none" stroke="#000" stroke-width="3"/>
<path d="M1572.6,1172.1H1582.1V1252H1572.6" fill="none" stroke="#000" stroke-width="3"/>
<text x="1540.5" y="1205.5" font-size="26.5">***</text>
<text x="1539" y="1248.5" font-size="26.5">*</text>
<text x="1591.5" y="1227" font-size="26.5">****</text>
<line x1="971.2" y1="1026" x2="992" y2="1026" stroke-width="1.2" stroke="#999999"/>
<line x1="1001.8" y1="1026" x2="1023.6" y2="1026" stroke-width="2.3" stroke="#333333"/>
<circle cx="1012.7" cy="1026" r="4.1" fill="#333333"/>
<text x="1040.6" y="1037.8" font-size="26.5">EYFP-Saline</text>
<line x1="971.2" y1="1070.6" x2="992" y2="1070.6" stroke-width="1.2" stroke="#FF9C9C"/>
<line x1="1001.8" y1="1070.6" x2="1023.6" y2="1070.6" stroke-width="2.3" stroke="#FF0000"/>
<circle cx="1012.7" cy="1070.6" r="4.1" fill="#FF0000"/>
<text x="1040.6" y="1081.9" font-size="26.5">ChR2-Saline</text>
<line x1="971.2" y1="1116.5" x2="992" y2="1116.5" stroke-width="1.2" stroke="#8DBBFF"/>
<line x1="1001.8" y1="1116.5" x2="1023.6" y2="1116.5" stroke-width="2.3" stroke="#0A84FF"/>
<circle cx="1012.7" cy="1116.5" r="4.1" fill="#0A84FF"/>
<text x="1040.6" y="1126" font-size="26.5">ChR2-R3(B1-22)R</text>
</g>
<g id="panel-f">
<text x="1665.5" y="671" font-size="34.7" font-weight="bold" stroke-width="0">f</text>
<rect x="1803.4" y="778.6" width="17.5" height="17.5" fill="#fff" stroke="#000" stroke-width="2.1"/>
<text x="1832.8" y="797.3" font-size="26.5">EYFP-Saline</text>
<rect x="1803.4" y="827" width="17.5" height="17.5" fill="#fff" stroke="#F01414" stroke-width="2.1"/>
<text x="1832.8" y="845.8" font-size="26.5">ChR2-Saline</text>
<rect x="1803.4" y="872.4" width="17.5" height="17.5" fill="#fff" stroke="#0A84FF" stroke-width="2.1"/>
<text x="1832.8" y="890.3" font-size="26.5">ChR2-R3(B1-22)R</text>
<g fill="none" stroke="#999999" stroke-width="1.3">
<circle cx="1828.6" cy="1058.4" r="2.9"/>
<circle cx="1828.6" cy="1095.9" r="2.9"/>
<circle cx="1828.6" cy="1101.1" r="2.9"/>
<circle cx="1828.6" cy="1130.8" r="2.9"/>
<circle cx="1828.6" cy="1135" r="2.9"/>
<circle cx="1828.6" cy="1138.6" r="2.9"/>
<circle cx="1828.6" cy="1141.2" r="2.9"/>
<circle cx="1828.6" cy="1144.3" r="2.9"/>
<circle cx="1828.6" cy="1148" r="2.9"/>
<circle cx="1828.6" cy="1153.2" r="2.9"/>
<circle cx="1828.6" cy="1168.8" r="2.9"/>
</g>
<g fill="none" stroke="#999999" stroke-width="1.3">
<circle cx="1862.5" cy="1137.6" r="2.9"/>
<circle cx="1862.5" cy="1148" r="2.9"/>
<circle cx="1862.5" cy="1155.8" r="2.9"/>
<circle cx="1862.5" cy="1161" r="2.9"/>
<circle cx="1862.5" cy="1167.3" r="2.9"/>
<circle cx="1862.5" cy="1171.4" r="2.9"/>
<circle cx="1862.5" cy="1175.6" r="2.9"/>
<circle cx="1862.5" cy="1181.9" r="2.9"/>
<circle cx="1862.5" cy="1188.1" r="2.9"/>
<circle cx="1862.5" cy="1192.3" r="2.9"/>
</g>
<g fill="none" stroke="#FF9090" stroke-width="1.3">
<circle cx="1896.9" cy="1114.1" r="2.9"/>
<circle cx="1896.9" cy="1124.5" r="2.9"/>
<circle cx="1896.9" cy="1128.7" r="2.9"/>
<circle cx="1896.9" cy="1132.4" r="2.9"/>
<circle cx="1896.9" cy="1135" r="2.9"/>
<circle cx="1896.9" cy="1139.1" r="2.9"/>
<circle cx="1896.9" cy="1153.2" r="2.9"/>
<circle cx="1896.9" cy="1158.4" r="2.9"/>
<circle cx="1896.9" cy="1199" r="2.9"/>
</g>
<g fill="none" stroke="#FF9090" stroke-width="1.3">
<circle cx="1930.7" cy="1075" r="2.9"/>
<circle cx="1930.7" cy="1087" r="2.9"/>
<circle cx="1930.7" cy="1105.3" r="2.9"/>
<circle cx="1930.7" cy="1110.5" r="2.9"/>
<circle cx="1930.7" cy="1114.1" r="2.9"/>
<circle cx="1930.7" cy="1122" r="2.9"/>
<circle cx="1930.7" cy="1129.8" r="2.9"/>
<circle cx="1930.7" cy="1135" r="2.9"/>
<circle cx="1930.7" cy="1140.2" r="2.9"/>
</g>
<g fill="none" stroke="#86BBF5" stroke-width="1.3">
<circle cx="1970.8" cy="1080.3" r="2.9"/>
<circle cx="1970.8" cy="1097.5" r="2.9"/>
<circle cx="1970.8" cy="1106.3" r="2.9"/>
<circle cx="1970.8" cy="1110.5" r="2.9"/>
<circle cx="1970.8" cy="1119.3" r="2.9"/>
<circle cx="1970.8" cy="1128.7" r="2.9"/>
<circle cx="1970.8" cy="1141.2" r="2.9"/>
<circle cx="1970.8" cy="1149.6" r="2.9"/>
<circle cx="1970.8" cy="1166.2" r="2.9"/>
<circle cx="1970.8" cy="1223.5" r="2.9"/>
</g>
<g fill="none" stroke="#86BBF5" stroke-width="1.3">
<circle cx="2005.8" cy="1051.6" r="2.9"/>
<circle cx="2005.8" cy="1055.8" r="2.9"/>
<circle cx="2005.8" cy="1063.1" r="2.9"/>
<circle cx="2005.8" cy="1066.2" r="2.9"/>
<circle cx="2005.8" cy="1071.4" r="2.9"/>
<circle cx="2005.8" cy="1091.7" r="2.9"/>
<circle cx="2005.8" cy="1105.3" r="2.9"/>
<circle cx="2005.8" cy="1142.8" r="2.9"/>
<circle cx="2005.8" cy="1163.6" r="2.9"/>
<circle cx="2005.8" cy="1167.3" r="2.9"/>
<circle cx="2005.8" cy="1226.1" r="2.9"/>
</g>
<line x1="1815.6" y1="1141.2" x2="2042.2" y2="1141.2" stroke="#000" stroke-width="2" stroke-dasharray="9 3.6"/>
<rect x="1835.6" y="1127.2" width="13.9" height="14" fill="#fff" stroke="#000" stroke-width="2.2"/>
<path d="M1842.5,1119.3V1135M1838,1119.3h9.2M1838,1135h9.2" fill="none" stroke="#000" stroke-width="2"/>
<rect x="1869.5" y="1141.2" width="14.1" height="26.1" fill="#fff" stroke="#000" stroke-width="2.2"/>
<path d="M1876.5,1162.1V1172.5M1872,1162.1h9.2M1872,1172.5h9.2" fill="none" stroke="#000" stroke-width="2"/>
<rect x="1904.4" y="1141.2" width="13" height="0" fill="#fff" stroke="#F01414" stroke-width="2.2"/>
<path d="M1910.9,1133.9V1146.4M1906.3,1133.9h9.2M1906.3,1146.4h9.2" fill="none" stroke="#F01414" stroke-width="2"/>
<rect x="1938.2" y="1116.7" width="13.4" height="24.5" fill="#fff" stroke="#F01414" stroke-width="2.2"/>
<path d="M1944.9,1111.5V1122M1940.3,1111.5h9.2M1940.3,1122h9.2" fill="none" stroke="#F01414" stroke-width="2"/>
<rect x="1978.7" y="1132.4" width="13" height="8.8" fill="#fff" stroke="#0A84FF" stroke-width="2.2"/>
<path d="M1985.2,1123V1144.3M1980.6,1123h9.2M1980.6,1144.3h9.2" fill="none" stroke="#0A84FF" stroke-width="2"/>
<rect x="2012.5" y="1110.5" width="13.9" height="30.7" fill="#fff" stroke="#0A84FF" stroke-width="2.2"/>
<path d="M2019.5,1094.8V1125.6M2014.9,1094.8h9.2M2014.9,1125.6h9.2" fill="none" stroke="#0A84FF" stroke-width="2"/>
<g stroke="#000" stroke-width="3" fill="none">
<line x1="1815.6" y1="1026.7" x2="1815.6" y2="1256.3"/>
<line x1="1814.1" y1="1254.8" x2="2042.2" y2="1254.8"/>
<line x1="1807.2" y1="1028.2" x2="1815.6" y2="1028.2"/>
<line x1="1807.2" y1="1084.4" x2="1815.6" y2="1084.4"/>
<line x1="1807.2" y1="1141.2" x2="1815.6" y2="1141.2"/>
<line x1="1807.2" y1="1197.5" x2="1815.6" y2="1197.5"/>
<line x1="1807.2" y1="1254.8" x2="1815.6" y2="1254.8"/>
<line x1="1842.2" y1="1254.8" x2="1842.2" y2="1263"/>
<line x1="1876" y1="1254.8" x2="1876" y2="1263"/>
<line x1="1910.9" y1="1254.8" x2="1910.9" y2="1263"/>
<line x1="1944.8" y1="1254.8" x2="1944.8" y2="1263"/>
<line x1="1984.9" y1="1254.8" x2="1984.9" y2="1263"/>
<line x1="2019.3" y1="1254.8" x2="2019.3" y2="1263"/>
</g>
<g font-size="26.5">
<text x="1792.1" y="1038.6" text-anchor="end">60</text>
<text x="1792.1" y="1094.8" text-anchor="end">30</text>
<text x="1792.1" y="1151.6" text-anchor="end">0</text>
<text x="1792.1" y="1207.9" text-anchor="end">-30</text>
<text x="1792.1" y="1265.2" text-anchor="end">-60</text>
<text x="1856.2" y="1285.8" text-anchor="end" transform="rotate(-45 1856.2 1285.8)">BS</text>
<text x="1891.5" y="1285.8" text-anchor="end" transform="rotate(-45 1891.5 1285.8)">CS</text>
<text x="1926.4" y="1285.8" text-anchor="end" transform="rotate(-45 1926.4 1285.8)">BS</text>
<text x="1962.3" y="1285.8" text-anchor="end" transform="rotate(-45 1962.3 1285.8)">CS</text>
<text x="2000.4" y="1285.8" text-anchor="end" transform="rotate(-45 2000.4 1285.8)">BS</text>
<text x="2035.3" y="1285.8" text-anchor="end" transform="rotate(-45 2035.3 1285.8)">CS</text>
<text x="1696.3" y="1141.2" text-anchor="middle" transform="rotate(-90 1696.3 1141.2)">ΔEating</text>
<text x="1731.2" y="1141.2" text-anchor="middle" transform="rotate(-90 1731.2 1141.2)">(post - pre, %)</text>
</g>
<path d="M1835.4,1024.6V1015.1H1866.6V1024.6" fill="none" stroke="#000" stroke-width="3"/>
<text x="1851" y="1015.5" text-anchor="middle" font-size="26.5">****</text>
<path d="M1910.9,1024.6V1015.1H1943.2V1024.6" fill="none" stroke="#000" stroke-width="3"/>
<text x="1927.1" y="1015.5" text-anchor="middle" font-size="26.5">**</text>
<path d="M1992.7,1024.6V1015.1H2024.5V1024.6" fill="none" stroke="#000" stroke-width="3"/>
<text x="2008.6" y="1015.5" text-anchor="middle" font-size="26.5">**</text>
<path d="M1865.1,981.4V971.9H1944.8V981.4" fill="none" stroke="#000" stroke-width="3"/>
<text x="1904.9" y="974.5" text-anchor="middle" font-size="26.5">**</text>
<path d="M1865.1,952.8V943.8H2024.5V952.8" fill="none" stroke="#000" stroke-width="3"/>
<text x="1944.8" y="946.5" text-anchor="middle" font-size="26.5">***</text>
</g>
</svg>
</body></html>
